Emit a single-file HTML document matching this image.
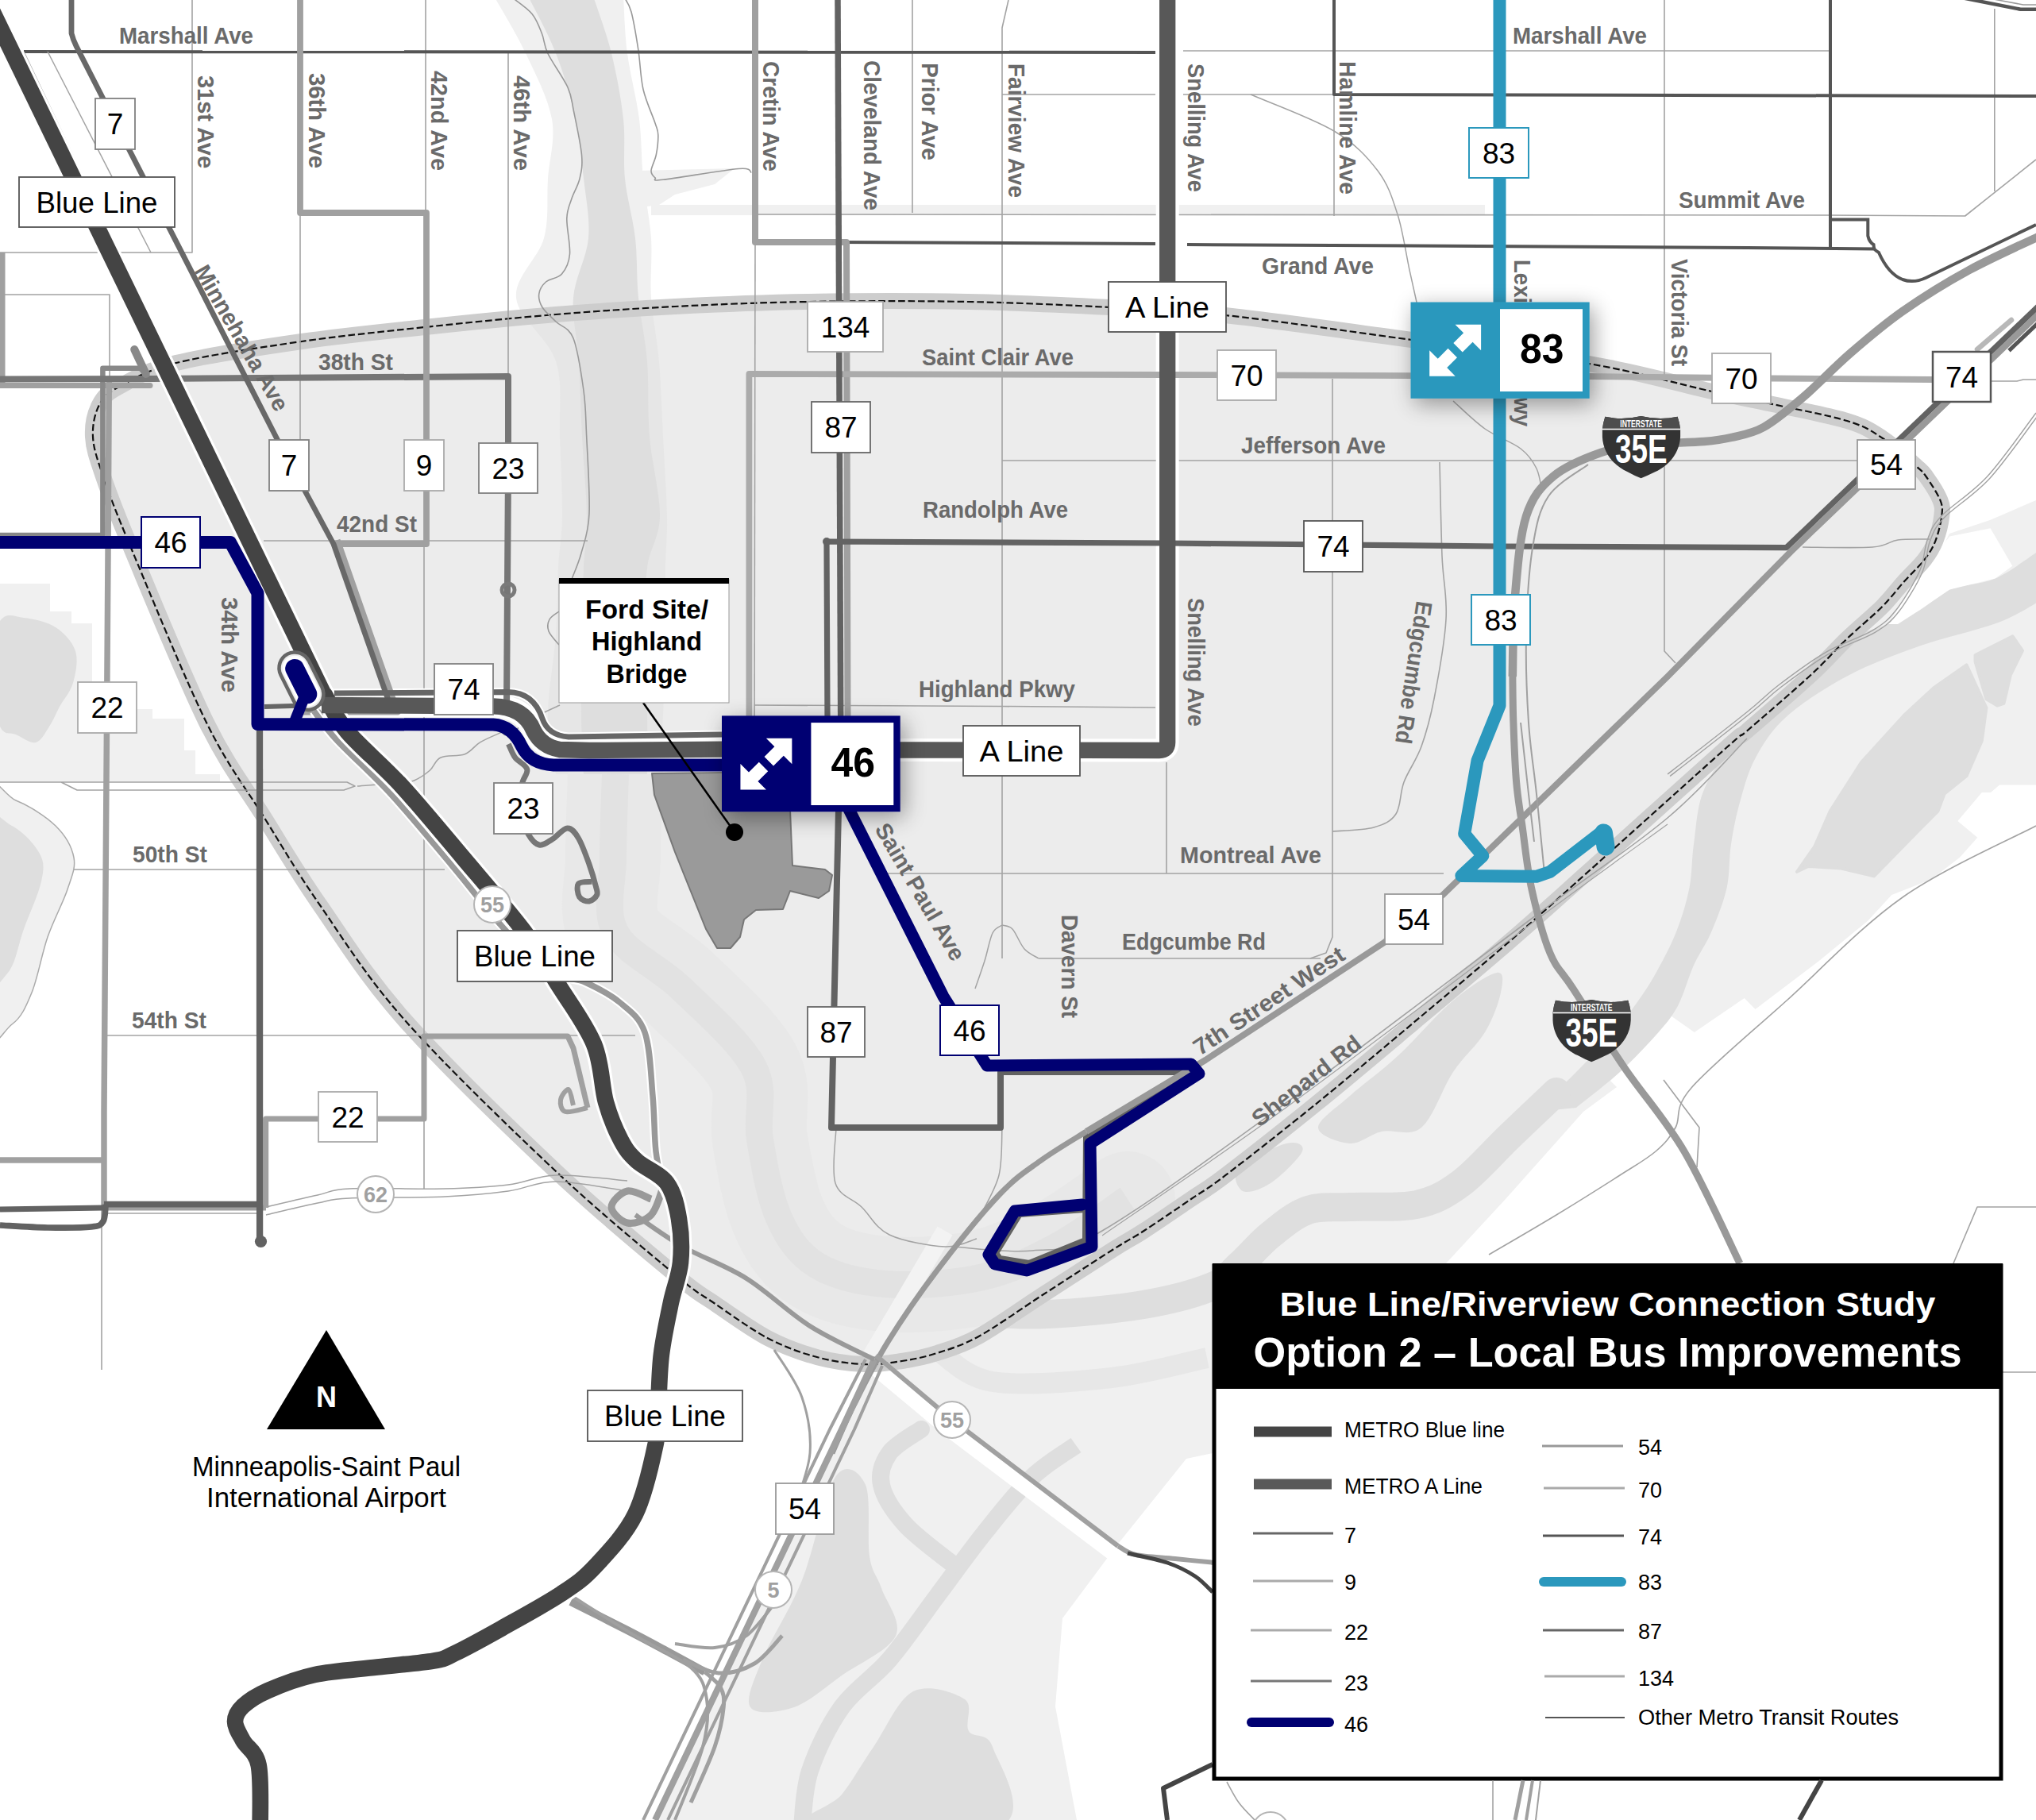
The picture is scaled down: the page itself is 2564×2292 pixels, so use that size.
<!DOCTYPE html>
<html><head><meta charset="utf-8"><title>Blue Line/Riverview Connection Study - Option 2</title>
<style>
html,body{margin:0;padding:0;background:#fff;}
body{width:2564px;height:2292px;overflow:hidden;font-family:"Liberation Sans",sans-serif;}
svg{display:block}
text{font-family:"Liberation Sans",sans-serif;}
.st{font-weight:bold;fill:#6a6a6a;font-size:29px;}
.bx{font-size:37px;fill:#000;text-anchor:middle;}
.lg{font-size:27px;fill:#000;}
</style></head><body>
<svg width="2564" height="2292" viewBox="0 0 2564 2292">
<rect width="2564" height="2292" fill="#fff"/>
<polygon points="0.0,735.0 63.0,735.0 63.0,770.0 90.0,770.0 90.0,785.0 116.0,785.0 116.0,893.0 192.0,893.0 192.0,905.0 232.0,905.0 232.0,945.0 246.0,945.0 246.0,975.0 277.0,975.0 277.0,985.0 0.0,985.0" fill="#f0f0f0" />
<path d="M0.0,782.0C8.3,770.0 18.3,776.7 30.0,778.0C41.7,779.3 59.2,783.0 70.0,790.0C80.8,797.0 91.3,808.3 95.0,820.0C98.7,831.7 95.3,848.3 92.0,860.0C88.7,871.7 80.0,880.8 75.0,890.0C70.0,899.2 67.0,907.5 62.0,915.0C57.0,922.5 52.0,933.3 45.0,935.0C38.0,936.7 27.5,928.3 20.0,925.0C12.5,921.7 6.7,927.5 0.0,915.0C-6.7,902.5 -20.0,872.2 -20.0,850.0C-20.0,827.8 -8.3,794.0 0.0,782.0Z" fill="#dedede" />
<path d="M-30.0,1000.0C-21.7,951.3 3.3,1001.3 20.0,1008.0C36.7,1014.7 57.8,1028.0 70.0,1040.0C82.2,1052.0 90.5,1066.7 93.0,1080.0C95.5,1093.3 90.5,1103.3 85.0,1120.0C79.5,1136.7 67.5,1158.3 60.0,1180.0C52.5,1201.7 47.5,1231.7 40.0,1250.0C32.5,1268.3 26.7,1281.7 15.0,1290.0C3.3,1298.3 -22.5,1348.3 -30.0,1300.0C-37.5,1251.7 -38.3,1048.7 -30.0,1000.0Z" fill="#f0f0f0" stroke="#aaa" stroke-width="1.5"/>
<path d="M-30.0,1035.0C-22.5,1001.7 1.7,1033.3 15.0,1040.0C28.3,1046.7 43.8,1063.3 50.0,1075.0C56.2,1086.7 55.3,1094.2 52.0,1110.0C48.7,1125.8 37.0,1150.8 30.0,1170.0C23.0,1189.2 20.0,1213.3 10.0,1225.0C0.0,1236.7 -23.3,1271.7 -30.0,1240.0C-36.7,1208.3 -37.5,1068.3 -30.0,1035.0Z" fill="#dedede" />
<path d="M622.0,-5.0C628.7,7.0 649.8,41.2 662.0,67.0C674.2,92.8 690.3,123.7 695.0,150.0C699.7,176.3 691.7,200.0 690.0,225.0C688.3,250.0 691.7,275.0 685.0,300.0C678.3,325.0 647.5,349.2 650.0,375.0C652.5,400.8 690.8,425.8 700.0,455.0C709.2,484.2 703.7,517.5 705.0,550.0C706.3,582.5 708.3,622.5 708.0,650.0C707.7,677.5 704.3,690.0 703.0,715.0C701.7,740.0 702.2,769.2 700.0,800.0C697.8,830.8 690.0,870.8 690.0,900.0C690.0,929.2 698.3,962.5 700.0,975.0L830.0,975.0C830.8,962.5 833.7,929.2 835.0,900.0C836.3,870.8 837.5,830.8 838.0,800.0C838.5,769.2 837.7,740.0 838.0,715.0C838.3,690.0 840.5,677.5 840.0,650.0C839.5,622.5 836.7,582.5 835.0,550.0C833.3,517.5 832.5,484.2 830.0,455.0C827.5,425.8 821.7,400.8 820.0,375.0C818.3,349.2 821.7,325.0 820.0,300.0C818.3,275.0 812.5,250.0 810.0,225.0C807.5,200.0 808.3,176.3 805.0,150.0C801.7,123.7 793.3,92.8 790.0,67.0C786.7,41.2 785.8,7.0 785.0,-5.0Z" fill="#f0f0f0"/>
<path d="M665.0,-5.0C670.8,7.0 690.0,41.2 700.0,67.0C710.0,92.8 719.2,123.7 725.0,150.0C730.8,176.3 732.3,200.0 735.0,225.0C737.7,250.0 743.2,275.0 741.0,300.0C738.8,325.0 724.0,349.2 722.0,375.0C720.0,400.8 727.2,425.8 729.0,455.0C730.8,484.2 731.3,517.5 733.0,550.0C734.7,582.5 738.7,622.5 739.0,650.0C739.3,677.5 736.0,690.0 735.0,715.0C734.0,740.0 733.5,769.2 733.0,800.0C732.5,830.8 731.7,870.8 732.0,900.0C732.3,929.2 734.5,962.5 735.0,975.0L815.0,975.0C815.0,962.5 815.5,929.2 815.0,900.0C814.5,870.8 812.0,830.8 812.0,800.0C812.0,769.2 811.8,740.0 815.0,715.0C818.2,690.0 830.5,677.5 831.0,650.0C831.5,622.5 820.7,582.5 818.0,550.0C815.3,517.5 817.3,484.2 815.0,455.0C812.7,425.8 806.5,400.8 804.0,375.0C801.5,349.2 802.8,325.0 800.0,300.0C797.2,275.0 789.5,250.0 787.0,225.0C784.5,200.0 787.8,176.3 785.0,150.0C782.2,123.7 776.3,92.8 770.0,67.0C763.7,41.2 750.8,7.0 747.0,-5.0Z" fill="#dedede"/>
<polygon points="800.0,215.0 925.0,212.0 900.0,232.0 850.0,245.0 830.0,258.0 800.0,262.0" fill="#f0f0f0" />
<rect x="820" y="258" width="1050" height="13" fill="#f0f0f0"/>
<polygon points="2564.0,630.0 2506.0,655.0 2455.0,672.0 2441.0,700.0 2396.0,740.0 2296.0,830.0 2211.0,905.0 2026.0,1065.0 1900.0,1180.0 1657.0,1385.0 1543.0,1475.0 1401.0,1568.0 1312.0,1625.0 1233.0,1678.0 1135.0,1710.0 1088.0,1714.0 1029.0,1705.0 975.0,1685.0 1101.0,1712.0 825.0,2292.0 1356.0,2292.0 1329.0,2149.0 1338.0,2038.0 1405.0,1948.0 1494.0,1837.0 1580.0,1819.0 1700.0,1700.0 1821.0,1591.0 1896.0,1510.0 1994.0,1400.0 2036.0,1369.0 2028.0,1361.0 2073.0,1316.0 2102.4,1278.0 2133.8,1300.0 2196.7,1257.0 2210.5,1271.0 2290.9,1210.0 2351.8,1160.0 2382.3,1127.0 2432.0,1107.5 2468.0,1079.8 2490.3,1054.8 2465.4,1034.0 2495.8,998.0 2507.0,998.0 2518.0,988.4 2564.0,988.4" fill="#f0f0f0" />
<polygon points="2263.0,1097.8 2285.3,1066.0 2304.7,1021.6 2343.5,960.7 2399.0,899.7 2435.0,866.5 2476.5,837.4 2501.4,891.4 2495.8,933.0 2476.5,977.3 2448.8,999.4 2440.4,1021.6 2415.5,1046.5 2360.0,1103.3 2318.6,1093.6 2277.0,1090.9" fill="#dedede" stroke="#dedede" stroke-width="4" stroke-linejoin="round"/>
<polygon points="2487.5,825.0 2534.6,801.4 2547.0,819.4 2531.9,849.9 2523.5,885.9 2515.2,888.6 2501.4,880.3 2487.5,833.2" fill="#dedede" stroke="#dedede" stroke-width="4" stroke-linejoin="round"/>
<path d="M2570.0,692.0C2560.4,698.1 2531.7,720.2 2512.6,728.6C2493.5,737.0 2471.0,735.8 2455.2,742.4C2439.4,749.0 2430.5,760.9 2417.6,768.2C2404.7,775.5 2392.6,779.9 2378.0,786.0C2363.4,792.1 2346.3,794.3 2330.0,805.0C2313.7,815.7 2297.5,834.2 2280.0,850.0C2262.5,865.8 2242.2,884.3 2225.0,900.0C2207.8,915.7 2190.5,927.4 2177.0,944.0C2163.5,960.6 2151.3,979.7 2144.0,999.5C2136.7,1019.3 2135.8,1043.2 2133.0,1063.0C2130.2,1082.8 2131.1,1100.1 2127.4,1118.6C2123.7,1137.1 2118.2,1155.5 2110.8,1174.0C2103.4,1192.5 2092.2,1213.2 2083.0,1229.4C2073.8,1245.6 2063.7,1259.2 2055.4,1271.0C2047.1,1282.8 2044.1,1287.7 2033.2,1300.0C2022.3,1312.3 2006.4,1328.3 1990.0,1345.0C1973.6,1361.7 1944.2,1390.8 1935.0,1400.0L1985.0,1395.0C1994.2,1387.5 2022.7,1365.8 2040.0,1350.0C2057.3,1334.2 2076.3,1314.1 2088.6,1300.0C2100.9,1285.9 2106.2,1279.5 2113.6,1265.4C2121.0,1251.3 2126.1,1230.7 2133.0,1215.5C2139.9,1200.3 2148.1,1190.2 2155.0,1174.0C2161.9,1157.8 2170.3,1137.1 2174.5,1118.6C2178.7,1100.1 2177.2,1081.0 2180.0,1063.0C2182.8,1045.0 2185.9,1028.5 2191.0,1010.5C2196.1,992.5 2200.8,973.0 2210.5,955.0C2220.2,937.0 2230.2,920.0 2249.5,902.7C2268.8,885.4 2298.6,866.1 2326.6,851.2C2354.6,836.4 2385.9,824.8 2417.6,813.6C2449.2,802.4 2491.1,793.6 2516.5,784.0C2541.9,774.4 2561.1,760.7 2570.0,756.0Z" fill="#dedede"/>
<polygon points="2378.0,786.0 2417.6,722.6 2455.2,675.5 2506.6,665.3 2534.3,712.8 2512.6,728.6 2455.2,742.4 2417.6,768.2 2390.0,786.0" fill="#fff" />
<path d="M1960.0,1375.0C1950.0,1384.5 1920.0,1412.8 1900.0,1432.0C1880.0,1451.2 1859.3,1475.8 1840.0,1490.0C1820.7,1504.2 1807.3,1512.0 1784.0,1517.0C1760.7,1522.0 1722.8,1518.8 1700.0,1520.0C1677.2,1521.2 1663.7,1518.2 1647.0,1524.0C1630.3,1529.8 1614.3,1543.5 1600.0,1555.0C1585.7,1566.5 1573.2,1582.2 1561.0,1593.0C1548.8,1603.8 1547.2,1611.7 1527.0,1620.0C1506.8,1628.3 1474.5,1637.2 1440.0,1643.0C1405.5,1648.8 1354.3,1653.5 1320.0,1655.0C1285.7,1656.5 1262.3,1654.5 1234.0,1652.0C1205.7,1649.5 1164.0,1642.0 1150.0,1640.0" fill="none" stroke="#dedede" stroke-width="36" stroke-linejoin="round" stroke-linecap="round"/>
<path d="M1660.0,1420.0C1660.0,1410.0 1683.3,1395.0 1700.0,1380.0C1716.7,1365.0 1738.3,1350.0 1760.0,1330.0C1781.7,1310.0 1809.2,1277.5 1830.0,1260.0C1850.8,1242.5 1875.0,1226.7 1885.0,1225.0C1895.0,1223.3 1892.5,1237.5 1890.0,1250.0C1887.5,1262.5 1880.0,1283.3 1870.0,1300.0C1860.0,1316.7 1843.3,1330.0 1830.0,1350.0C1816.7,1370.0 1805.0,1407.5 1790.0,1420.0C1775.0,1432.5 1755.0,1421.7 1740.0,1425.0C1725.0,1428.3 1713.3,1440.8 1700.0,1440.0C1686.7,1439.2 1660.0,1430.0 1660.0,1420.0Z" fill="#dedede" />
<path d="M1560.0,1470.0C1569.2,1460.0 1606.7,1443.3 1620.0,1440.0C1633.3,1436.7 1643.3,1441.7 1640.0,1450.0C1636.7,1458.3 1612.5,1481.7 1600.0,1490.0C1587.5,1498.3 1571.7,1503.3 1565.0,1500.0C1558.3,1496.7 1550.8,1480.0 1560.0,1470.0Z" fill="#dedede" />
<path d="M1052.0,1860.0C1065.3,1840.0 1082.8,1853.3 1090.0,1870.0C1097.2,1886.7 1091.7,1938.3 1095.0,1960.0C1098.3,1981.7 1104.5,1983.3 1110.0,2000.0C1115.5,2016.7 1136.3,2041.7 1128.0,2060.0C1119.7,2078.3 1081.3,2095.0 1060.0,2110.0C1038.7,2125.0 1019.2,2143.3 1000.0,2150.0C980.8,2156.7 951.7,2160.0 945.0,2150.0C938.3,2140.0 949.2,2116.7 960.0,2090.0C970.8,2063.3 994.7,2028.3 1010.0,1990.0C1025.3,1951.7 1038.7,1880.0 1052.0,1860.0Z" fill="#dedede" />
<path d="M1060.0,2260.0C1073.3,2243.3 1085.0,2221.7 1100.0,2200.0C1115.0,2178.3 1130.8,2140.0 1150.0,2130.0C1169.2,2120.0 1203.3,2131.7 1215.0,2140.0C1226.7,2148.3 1214.2,2170.0 1220.0,2180.0C1225.8,2190.0 1243.3,2180.0 1250.0,2200.0C1256.7,2220.0 1298.3,2283.3 1260.0,2300.0C1221.7,2316.7 1053.3,2306.7 1020.0,2300.0C986.7,2293.3 1046.7,2276.7 1060.0,2260.0Z" fill="#dedede" />
<path d="M1355.0,1820.0C1345.8,1826.7 1319.2,1841.7 1300.0,1860.0C1280.8,1878.3 1260.0,1905.0 1240.0,1930.0C1220.0,1955.0 1200.0,1983.3 1180.0,2010.0C1160.0,2036.7 1140.0,2066.7 1120.0,2090.0C1100.0,2113.3 1076.7,2126.7 1060.0,2150.0C1043.3,2173.3 1028.3,2205.0 1020.0,2230.0C1011.7,2255.0 1011.7,2288.3 1010.0,2300.0" fill="none" stroke="#dedede" stroke-width="22" stroke-linejoin="round" />
<path d="M1160.0,1800.0C1153.3,1805.0 1128.3,1818.3 1120.0,1830.0C1111.7,1841.7 1106.7,1855.0 1110.0,1870.0C1113.3,1885.0 1125.0,1903.3 1140.0,1920.0C1155.0,1936.7 1190.0,1961.7 1200.0,1970.0" fill="none" stroke="#dedede" stroke-width="22" stroke-linejoin="round" stroke-linecap="round"/>
<path d="M1180.0,1700.0C1191.7,1706.7 1213.3,1734.2 1250.0,1740.0C1286.7,1745.8 1355.0,1740.0 1400.0,1735.0C1445.0,1730.0 1500.0,1714.2 1520.0,1710.0" fill="none" stroke="#e7e7e7" stroke-width="26" stroke-linejoin="round" />
<polyline points="1095.0,1716.0 1192.0,1797.0 1405.0,1958.0 1440.0,1972.0" fill="none" stroke="#fff" stroke-width="20" stroke-linejoin="round" />
<clipPath id="sac"><path d="M150.0,487.0C166.2,478.2 183.7,466.5 222.0,457.0C260.3,447.5 327.8,437.5 380.0,430.0C432.2,422.5 481.7,417.7 535.0,412.0C588.3,406.3 647.5,400.3 700.0,396.0C752.5,391.7 797.0,388.7 850.0,386.0C903.0,383.3 956.7,381.0 1018.0,380.0C1079.3,379.0 1154.7,378.8 1218.0,380.0C1281.3,381.2 1343.8,384.2 1398.0,387.0C1452.2,389.8 1479.7,390.2 1543.0,397.0C1606.3,403.8 1701.7,417.8 1778.0,428.0C1854.3,438.2 1938.0,447.2 2001.0,458.0C2064.0,468.8 2117.8,484.6 2156.0,493.0C2194.2,501.4 2201.7,502.3 2230.0,508.5C2258.3,514.7 2302.5,522.8 2326.0,530.0C2349.5,537.2 2356.5,542.5 2371.0,552.0C2385.5,561.5 2403.9,579.0 2413.0,587.0C2422.1,595.0 2420.4,592.9 2425.5,600.0C2430.6,607.1 2440.0,621.5 2443.3,629.7C2446.6,638.0 2446.3,640.9 2445.3,649.5C2444.3,658.1 2441.0,671.9 2437.4,681.1C2433.8,690.3 2430.1,696.2 2423.5,704.8C2416.9,713.4 2406.7,722.6 2397.8,732.5C2388.9,742.4 2382.0,752.3 2370.1,764.2C2358.2,776.1 2341.8,789.3 2326.6,803.8C2311.4,818.3 2300.2,831.8 2279.1,851.2C2258.0,870.7 2217.4,905.5 2200.0,920.5C2182.6,935.5 2207.8,911.8 2174.5,941.3C2141.2,970.8 2045.8,1056.9 2000.0,1097.8C1954.2,1138.7 1936.7,1154.7 1900.0,1186.4C1863.3,1218.1 1820.5,1254.0 1780.0,1288.0C1739.5,1322.0 1696.6,1358.3 1657.2,1390.3C1617.8,1422.2 1570.0,1459.8 1543.8,1479.7C1517.6,1499.7 1517.2,1498.3 1500.0,1510.0C1482.8,1521.7 1457.1,1539.3 1440.6,1550.0C1424.1,1560.7 1422.3,1560.5 1401.0,1574.0C1379.7,1587.5 1340.6,1612.9 1312.6,1631.0C1284.6,1649.1 1255.1,1670.5 1233.0,1682.7C1210.9,1694.9 1196.2,1698.8 1180.0,1704.0C1163.8,1709.2 1151.0,1711.7 1135.8,1714.0C1120.6,1716.3 1106.3,1718.9 1088.6,1718.1C1070.9,1717.3 1049.8,1714.7 1029.7,1709.3C1009.6,1703.9 989.4,1697.0 967.8,1685.7C946.2,1674.4 919.6,1655.0 900.0,1641.5C880.4,1628.0 883.3,1632.8 850.0,1605.0C816.7,1577.2 756.7,1528.3 700.0,1475.0C643.3,1421.7 559.5,1340.8 510.0,1285.0C460.5,1229.2 432.5,1182.5 403.0,1140.0C373.5,1097.5 356.8,1068.3 333.0,1030.0C309.2,991.7 288.0,966.7 260.0,910.0C232.0,853.3 186.7,741.7 165.0,690.0C143.3,638.3 138.0,623.3 130.0,600.0C122.0,576.7 117.8,565.0 117.0,550.0C116.2,535.0 119.5,520.5 125.0,510.0C130.5,499.5 133.8,495.8 150.0,487.0Z"/></clipPath>
<path d="M150.0,487.0C166.2,478.2 183.7,466.5 222.0,457.0C260.3,447.5 327.8,437.5 380.0,430.0C432.2,422.5 481.7,417.7 535.0,412.0C588.3,406.3 647.5,400.3 700.0,396.0C752.5,391.7 797.0,388.7 850.0,386.0C903.0,383.3 956.7,381.0 1018.0,380.0C1079.3,379.0 1154.7,378.8 1218.0,380.0C1281.3,381.2 1343.8,384.2 1398.0,387.0C1452.2,389.8 1479.7,390.2 1543.0,397.0C1606.3,403.8 1701.7,417.8 1778.0,428.0C1854.3,438.2 1938.0,447.2 2001.0,458.0C2064.0,468.8 2117.8,484.6 2156.0,493.0C2194.2,501.4 2201.7,502.3 2230.0,508.5C2258.3,514.7 2302.5,522.8 2326.0,530.0C2349.5,537.2 2356.5,542.5 2371.0,552.0C2385.5,561.5 2403.9,579.0 2413.0,587.0C2422.1,595.0 2420.4,592.9 2425.5,600.0C2430.6,607.1 2440.0,621.5 2443.3,629.7C2446.6,638.0 2446.3,640.9 2445.3,649.5C2444.3,658.1 2441.0,671.9 2437.4,681.1C2433.8,690.3 2430.1,696.2 2423.5,704.8C2416.9,713.4 2406.7,722.6 2397.8,732.5C2388.9,742.4 2382.0,752.3 2370.1,764.2C2358.2,776.1 2341.8,789.3 2326.6,803.8C2311.4,818.3 2300.2,831.8 2279.1,851.2C2258.0,870.7 2217.4,905.5 2200.0,920.5C2182.6,935.5 2207.8,911.8 2174.5,941.3C2141.2,970.8 2045.8,1056.9 2000.0,1097.8C1954.2,1138.7 1936.7,1154.7 1900.0,1186.4C1863.3,1218.1 1820.5,1254.0 1780.0,1288.0C1739.5,1322.0 1696.6,1358.3 1657.2,1390.3C1617.8,1422.2 1570.0,1459.8 1543.8,1479.7C1517.6,1499.7 1517.2,1498.3 1500.0,1510.0C1482.8,1521.7 1457.1,1539.3 1440.6,1550.0C1424.1,1560.7 1422.3,1560.5 1401.0,1574.0C1379.7,1587.5 1340.6,1612.9 1312.6,1631.0C1284.6,1649.1 1255.1,1670.5 1233.0,1682.7C1210.9,1694.9 1196.2,1698.8 1180.0,1704.0C1163.8,1709.2 1151.0,1711.7 1135.8,1714.0C1120.6,1716.3 1106.3,1718.9 1088.6,1718.1C1070.9,1717.3 1049.8,1714.7 1029.7,1709.3C1009.6,1703.9 989.4,1697.0 967.8,1685.7C946.2,1674.4 919.6,1655.0 900.0,1641.5C880.4,1628.0 883.3,1632.8 850.0,1605.0C816.7,1577.2 756.7,1528.3 700.0,1475.0C643.3,1421.7 559.5,1340.8 510.0,1285.0C460.5,1229.2 432.5,1182.5 403.0,1140.0C373.5,1097.5 356.8,1068.3 333.0,1030.0C309.2,991.7 288.0,966.7 260.0,910.0C232.0,853.3 186.7,741.7 165.0,690.0C143.3,638.3 138.0,623.3 130.0,600.0C122.0,576.7 117.8,565.0 117.0,550.0C116.2,535.0 119.5,520.5 125.0,510.0C130.5,499.5 133.8,495.8 150.0,487.0Z" fill="#ececec"/>
<g clip-path="url(#sac)">
<path d="M622.0,-5.0C628.7,7.0 649.8,41.2 662.0,67.0C674.2,92.8 690.3,123.7 695.0,150.0C699.7,176.3 691.7,200.0 690.0,225.0C688.3,250.0 691.7,275.0 685.0,300.0C678.3,325.0 647.5,349.2 650.0,375.0C652.5,400.8 690.8,425.8 700.0,455.0C709.2,484.2 703.7,517.5 705.0,550.0C706.3,582.5 708.3,622.5 708.0,650.0C707.7,677.5 704.3,690.0 703.0,715.0C701.7,740.0 702.2,769.2 700.0,800.0C697.8,830.8 690.0,870.8 690.0,900.0C690.0,929.2 698.3,962.5 700.0,975.0L830.0,975.0C830.8,962.5 833.7,929.2 835.0,900.0C836.3,870.8 837.5,830.8 838.0,800.0C838.5,769.2 837.7,740.0 838.0,715.0C838.3,690.0 840.5,677.5 840.0,650.0C839.5,622.5 836.7,582.5 835.0,550.0C833.3,517.5 832.5,484.2 830.0,455.0C827.5,425.8 821.7,400.8 820.0,375.0C818.3,349.2 821.7,325.0 820.0,300.0C818.3,275.0 812.5,250.0 810.0,225.0C807.5,200.0 808.3,176.3 805.0,150.0C801.7,123.7 793.3,92.8 790.0,67.0C786.7,41.2 785.8,7.0 785.0,-5.0Z" fill="#e6e6e6"/>
<path d="M775.0,975.0C774.5,992.5 772.0,1046.8 772.0,1080.0C772.0,1113.2 760.7,1146.5 775.0,1174.0C789.3,1201.5 829.0,1216.7 858.0,1245.0C887.0,1273.3 932.5,1312.3 949.0,1344.0C965.5,1375.7 951.7,1403.3 957.0,1435.0C962.3,1466.7 969.2,1507.7 981.0,1534.0C992.8,1560.3 1005.7,1579.2 1028.0,1593.0C1050.3,1606.8 1080.7,1614.3 1115.0,1617.0C1149.3,1619.7 1198.2,1616.8 1234.0,1609.0C1269.8,1601.2 1299.0,1586.5 1330.0,1570.0C1361.0,1553.5 1405.0,1520.0 1420.0,1510.0" fill="none" stroke="#e8e8e8" stroke-width="120" stroke-linecap="round"/>
<path d="M665.0,-5.0C670.8,7.0 690.0,41.2 700.0,67.0C710.0,92.8 719.2,123.7 725.0,150.0C730.8,176.3 732.3,200.0 735.0,225.0C737.7,250.0 743.2,275.0 741.0,300.0C738.8,325.0 724.0,349.2 722.0,375.0C720.0,400.8 727.2,425.8 729.0,455.0C730.8,484.2 731.3,517.5 733.0,550.0C734.7,582.5 738.7,622.5 739.0,650.0C739.3,677.5 736.0,690.0 735.0,715.0C734.0,740.0 733.5,769.2 733.0,800.0C732.5,830.8 731.7,870.8 732.0,900.0C732.3,929.2 734.5,962.5 735.0,975.0L815.0,975.0C815.0,962.5 815.5,929.2 815.0,900.0C814.5,870.8 812.0,830.8 812.0,800.0C812.0,769.2 811.8,740.0 815.0,715.0C818.2,690.0 830.5,677.5 831.0,650.0C831.5,622.5 820.7,582.5 818.0,550.0C815.3,517.5 817.3,484.2 815.0,455.0C812.7,425.8 806.5,400.8 804.0,375.0C801.5,349.2 802.8,325.0 800.0,300.0C797.2,275.0 789.5,250.0 787.0,225.0C784.5,200.0 787.8,176.3 785.0,150.0C782.2,123.7 776.3,92.8 770.0,67.0C763.7,41.2 750.8,7.0 747.0,-5.0Z" fill="#dedede"/>
<path d="M775.0,975.0C774.5,992.5 772.0,1046.8 772.0,1080.0C772.0,1113.2 760.7,1146.5 775.0,1174.0C789.3,1201.5 829.0,1216.7 858.0,1245.0C887.0,1273.3 932.5,1312.3 949.0,1344.0C965.5,1375.7 951.7,1403.3 957.0,1435.0C962.3,1466.7 969.2,1507.7 981.0,1534.0C992.8,1560.3 1005.7,1579.2 1028.0,1593.0C1050.3,1606.8 1080.7,1614.3 1115.0,1617.0C1149.3,1619.7 1198.2,1616.8 1234.0,1609.0C1269.8,1601.2 1299.0,1586.5 1330.0,1570.0C1361.0,1553.5 1405.0,1520.0 1420.0,1510.0" fill="none" stroke="#e2e2e2" stroke-width="34"/>
<path d="M1190,1550 L1128,1655 L1060,1770" fill="none" stroke="#f3f3f3" stroke-width="22"/>
</g>
<path d="M150.0,487.0C166.2,478.2 183.7,466.5 222.0,457.0C260.3,447.5 327.8,437.5 380.0,430.0C432.2,422.5 481.7,417.7 535.0,412.0C588.3,406.3 647.5,400.3 700.0,396.0C752.5,391.7 797.0,388.7 850.0,386.0C903.0,383.3 956.7,381.0 1018.0,380.0C1079.3,379.0 1154.7,378.8 1218.0,380.0C1281.3,381.2 1343.8,384.2 1398.0,387.0C1452.2,389.8 1479.7,390.2 1543.0,397.0C1606.3,403.8 1701.7,417.8 1778.0,428.0C1854.3,438.2 1938.0,447.2 2001.0,458.0C2064.0,468.8 2117.8,484.6 2156.0,493.0C2194.2,501.4 2201.7,502.3 2230.0,508.5C2258.3,514.7 2302.5,522.8 2326.0,530.0C2349.5,537.2 2356.5,542.5 2371.0,552.0C2385.5,561.5 2403.9,579.0 2413.0,587.0C2422.1,595.0 2420.4,592.9 2425.5,600.0C2430.6,607.1 2440.0,621.5 2443.3,629.7C2446.6,638.0 2446.3,640.9 2445.3,649.5C2444.3,658.1 2441.0,671.9 2437.4,681.1C2433.8,690.3 2430.1,696.2 2423.5,704.8C2416.9,713.4 2406.7,722.6 2397.8,732.5C2388.9,742.4 2382.0,752.3 2370.1,764.2C2358.2,776.1 2341.8,789.3 2326.6,803.8C2311.4,818.3 2300.2,831.8 2279.1,851.2C2258.0,870.7 2217.4,905.5 2200.0,920.5C2182.6,935.5 2207.8,911.8 2174.5,941.3C2141.2,970.8 2045.8,1056.9 2000.0,1097.8C1954.2,1138.7 1936.7,1154.7 1900.0,1186.4C1863.3,1218.1 1820.5,1254.0 1780.0,1288.0C1739.5,1322.0 1696.6,1358.3 1657.2,1390.3C1617.8,1422.2 1570.0,1459.8 1543.8,1479.7C1517.6,1499.7 1517.2,1498.3 1500.0,1510.0C1482.8,1521.7 1457.1,1539.3 1440.6,1550.0C1424.1,1560.7 1422.3,1560.5 1401.0,1574.0C1379.7,1587.5 1340.6,1612.9 1312.6,1631.0C1284.6,1649.1 1255.1,1670.5 1233.0,1682.7C1210.9,1694.9 1196.2,1698.8 1180.0,1704.0C1163.8,1709.2 1151.0,1711.7 1135.8,1714.0C1120.6,1716.3 1106.3,1718.9 1088.6,1718.1C1070.9,1717.3 1049.8,1714.7 1029.7,1709.3C1009.6,1703.9 989.4,1697.0 967.8,1685.7C946.2,1674.4 919.6,1655.0 900.0,1641.5C880.4,1628.0 883.3,1632.8 850.0,1605.0C816.7,1577.2 756.7,1528.3 700.0,1475.0C643.3,1421.7 559.5,1340.8 510.0,1285.0C460.5,1229.2 432.5,1182.5 403.0,1140.0C373.5,1097.5 356.8,1068.3 333.0,1030.0C309.2,991.7 288.0,966.7 260.0,910.0C232.0,853.3 186.7,741.7 165.0,690.0C143.3,638.3 138.0,623.3 130.0,600.0C122.0,576.7 117.8,565.0 117.0,550.0C116.2,535.0 119.5,520.5 125.0,510.0C130.5,499.5 133.8,495.8 150.0,487.0Z" fill="none" stroke="#cdcdcd" stroke-width="20"/>
<path d="M150.0,487.0C166.2,478.2 183.7,466.5 222.0,457.0C260.3,447.5 327.8,437.5 380.0,430.0C432.2,422.5 481.7,417.7 535.0,412.0C588.3,406.3 647.5,400.3 700.0,396.0C752.5,391.7 797.0,388.7 850.0,386.0C903.0,383.3 956.7,381.0 1018.0,380.0C1079.3,379.0 1154.7,378.8 1218.0,380.0C1281.3,381.2 1343.8,384.2 1398.0,387.0C1452.2,389.8 1479.7,390.2 1543.0,397.0C1606.3,403.8 1701.7,417.8 1778.0,428.0C1854.3,438.2 1938.0,447.2 2001.0,458.0C2064.0,468.8 2117.8,484.6 2156.0,493.0C2194.2,501.4 2201.7,502.3 2230.0,508.5C2258.3,514.7 2302.5,522.8 2326.0,530.0C2349.5,537.2 2356.5,542.5 2371.0,552.0C2385.5,561.5 2403.9,579.0 2413.0,587.0C2422.1,595.0 2420.4,592.9 2425.5,600.0C2430.6,607.1 2440.0,621.5 2443.3,629.7C2446.6,638.0 2446.3,640.9 2445.3,649.5C2444.3,658.1 2441.0,671.9 2437.4,681.1C2433.8,690.3 2430.1,696.2 2423.5,704.8C2416.9,713.4 2406.7,722.6 2397.8,732.5C2388.9,742.4 2382.0,752.3 2370.1,764.2C2358.2,776.1 2341.8,789.3 2326.6,803.8C2311.4,818.3 2300.2,831.8 2279.1,851.2C2258.0,870.7 2217.4,905.5 2200.0,920.5C2182.6,935.5 2207.8,911.8 2174.5,941.3C2141.2,970.8 2045.8,1056.9 2000.0,1097.8C1954.2,1138.7 1936.7,1154.7 1900.0,1186.4C1863.3,1218.1 1820.5,1254.0 1780.0,1288.0C1739.5,1322.0 1696.6,1358.3 1657.2,1390.3C1617.8,1422.2 1570.0,1459.8 1543.8,1479.7C1517.6,1499.7 1517.2,1498.3 1500.0,1510.0C1482.8,1521.7 1457.1,1539.3 1440.6,1550.0C1424.1,1560.7 1422.3,1560.5 1401.0,1574.0C1379.7,1587.5 1340.6,1612.9 1312.6,1631.0C1284.6,1649.1 1255.1,1670.5 1233.0,1682.7C1210.9,1694.9 1196.2,1698.8 1180.0,1704.0C1163.8,1709.2 1151.0,1711.7 1135.8,1714.0C1120.6,1716.3 1106.3,1718.9 1088.6,1718.1C1070.9,1717.3 1049.8,1714.7 1029.7,1709.3C1009.6,1703.9 989.4,1697.0 967.8,1685.7C946.2,1674.4 919.6,1655.0 900.0,1641.5C880.4,1628.0 883.3,1632.8 850.0,1605.0C816.7,1577.2 756.7,1528.3 700.0,1475.0C643.3,1421.7 559.5,1340.8 510.0,1285.0C460.5,1229.2 432.5,1182.5 403.0,1140.0C373.5,1097.5 356.8,1068.3 333.0,1030.0C309.2,991.7 288.0,966.7 260.0,910.0C232.0,853.3 186.7,741.7 165.0,690.0C143.3,638.3 138.0,623.3 130.0,600.0C122.0,576.7 117.8,565.0 117.0,550.0C116.2,535.0 119.5,520.5 125.0,510.0C130.5,499.5 133.8,495.8 150.0,487.0Z" fill="none" stroke="#111" stroke-width="2.2" stroke-dasharray="8.6 3.8"/>
<polygon points="821.0,974.0 824.0,1001.0 850.0,1073.0 889.0,1170.0 903.0,1194.0 920.0,1194.0 932.0,1180.0 937.0,1158.0 952.0,1146.0 986.0,1145.0 995.0,1122.0 1031.0,1131.0 1044.0,1122.0 1048.0,1102.0 1039.0,1095.0 998.0,1090.0 995.0,1020.0 995.0,972.0" fill="#9a9a9a" stroke="#777" stroke-width="2" stroke-linejoin="round"/>
<polyline points="242.0,0.0 242.0,318.0 0.0,318.0" fill="none" stroke="#a3a3a3" stroke-width="1.6" stroke-linejoin="round" />
<polyline points="0.0,371.0 138.0,371.0 138.0,474.0" fill="none" stroke="#a3a3a3" stroke-width="1.6" stroke-linejoin="round" />
<polyline points="378.0,268.0 378.0,600.0" fill="none" stroke="#a3a3a3" stroke-width="1.6" stroke-linejoin="round" />
<polyline points="536.0,0.0 536.0,268.0" fill="none" stroke="#a3a3a3" stroke-width="1.6" stroke-linejoin="round" />
<polyline points="534.0,685.0 534.0,1497.0" fill="none" stroke="#a3a3a3" stroke-width="1.6" stroke-linejoin="round" />
<polyline points="640.0,65.0 640.0,474.0" fill="none" stroke="#a3a3a3" stroke-width="1.6" stroke-linejoin="round" />
<polyline points="951.0,305.0 950.0,945.0" fill="none" stroke="#a3a3a3" stroke-width="1.6" stroke-linejoin="round" />
<polyline points="1149.0,0.0 1149.0,268.0" fill="none" stroke="#a3a3a3" stroke-width="1.6" stroke-linejoin="round" />
<polyline points="1270.0,0.0 1262.0,35.0 1262.0,1207.0" fill="none" stroke="#a3a3a3" stroke-width="1.6" stroke-linejoin="round" />
<polyline points="1469.0,960.0 1469.0,1100.0" fill="none" stroke="#a3a3a3" stroke-width="1.6" stroke-linejoin="round" />
<polyline points="1680.0,119.0 1680.0,272.0" fill="none" stroke="#a3a3a3" stroke-width="1.6" stroke-linejoin="round" />
<polyline points="1678.0,477.0 1678.0,1180.0 1670.0,1200.0 1650.0,1207.0" fill="none" stroke="#a3a3a3" stroke-width="1.6" stroke-linejoin="round" />
<polyline points="2096.0,0.0 2096.0,475.0" fill="none" stroke="#a3a3a3" stroke-width="1.6" stroke-linejoin="round" />
<polyline points="2096.0,580.0 2096.0,820.0 2110.0,835.0" fill="none" stroke="#a3a3a3" stroke-width="1.6" stroke-linejoin="round" />
<polyline points="1490.0,64.0 2305.0,64.0" fill="none" stroke="#a3a3a3" stroke-width="1.6" stroke-linejoin="round" />
<polyline points="1262.0,119.0 1455.0,119.0" fill="none" stroke="#a3a3a3" stroke-width="1.6" stroke-linejoin="round" />
<polyline points="1490.0,119.0 1680.0,119.0" fill="none" stroke="#a3a3a3" stroke-width="1.6" stroke-linejoin="round" />
<polyline points="951.0,270.0 2300.0,271.0 2474.7,272.0 2564.0,201.0" fill="none" stroke="#a3a3a3" stroke-width="1.6" stroke-linejoin="round" />
<polyline points="1262.0,580.0 2340.0,580.0" fill="none" stroke="#a3a3a3" stroke-width="1.6" stroke-linejoin="round" />
<polyline points="1113.0,1100.0 1818.0,1100.0" fill="none" stroke="#a3a3a3" stroke-width="1.6" stroke-linejoin="round" />
<polyline points="1308.0,1207.0 1663.0,1207.0" fill="none" stroke="#a3a3a3" stroke-width="1.6" stroke-linejoin="round" />
<polyline points="950.0,888.0 1262.0,889.5 1455.0,891.0" fill="none" stroke="#a3a3a3" stroke-width="1.6" stroke-linejoin="round" />
<polyline points="332.0,681.0 740.0,681.0" fill="none" stroke="#a3a3a3" stroke-width="1.6" stroke-linejoin="round" />
<polyline points="93.0,1095.0 560.0,1095.0" fill="none" stroke="#a3a3a3" stroke-width="1.6" stroke-linejoin="round" />
<polyline points="132.0,1304.0 800.0,1304.0" fill="none" stroke="#a3a3a3" stroke-width="1.6" stroke-linejoin="round" />
<polyline points="128.0,1517.0 128.0,1725.0" fill="none" stroke="#a3a3a3" stroke-width="1.6" stroke-linejoin="round" />
<polyline points="0.0,985.0 77.0,985.0 97.0,995.0 433.0,995.0 447.0,990.0 437.0,985.0 77.0,985.0" fill="none" stroke="#a3a3a3" stroke-width="1.6" stroke-linejoin="round" />
<path d="M632.0,922.0C627.5,924.1 612.8,930.0 605.0,934.6C597.2,939.2 593.8,946.5 585.5,949.7C577.2,952.9 562.3,950.6 555.0,954.0C547.7,957.4 547.0,965.2 541.5,970.0C536.0,974.8 527.9,980.1 522.0,982.7C516.1,985.3 518.0,984.2 506.0,985.4C494.0,986.6 459.3,989.2 450.0,990.0" fill="none" stroke="#a3a3a3" stroke-width="1.6" stroke-linejoin="round" />
<path d="M1813.0,582.0C1813.5,601.7 1814.7,667.0 1816.0,700.0C1817.3,733.0 1822.7,750.0 1821.0,780.0C1819.3,810.0 1811.2,853.3 1806.0,880.0C1800.8,906.7 1796.3,922.5 1790.0,940.0C1783.7,957.5 1773.3,970.8 1768.0,985.0C1762.7,999.2 1764.3,1015.5 1758.0,1025.0C1751.7,1034.5 1743.3,1038.3 1730.0,1042.0C1716.7,1045.7 1686.7,1046.2 1678.0,1047.0" fill="none" stroke="#a3a3a3" stroke-width="1.6" stroke-linejoin="round" />
<polyline points="2511.8,11.0 2511.8,241.0" fill="none" stroke="#a3a3a3" stroke-width="1.6" stroke-linejoin="round" />
<path d="M1200.0,1570.0C1216.7,1570.8 1268.7,1578.3 1300.0,1575.0C1331.3,1571.7 1335.0,1580.8 1388.0,1550.0C1441.0,1519.2 1526.3,1456.7 1618.0,1390.0C1709.7,1323.3 1857.7,1210.0 1938.0,1150.0C2018.3,1090.0 2056.3,1066.7 2100.0,1030.0C2143.7,993.3 2183.3,946.7 2200.0,930.0" fill="none" stroke="#a3a3a3" stroke-width="1.6" stroke-linejoin="round" />
<path d="M1388.0,1556.0C1426.3,1529.3 1526.3,1462.7 1618.0,1396.0C1709.7,1329.3 1857.7,1215.7 1938.0,1156.0C2018.3,1096.3 2073.0,1057.7 2100.0,1038.0" fill="none" stroke="#a3a3a3" stroke-width="1.2" stroke-linejoin="round" />
<path d="M2564.0,1040.0C2536.0,1055.0 2448.3,1093.3 2396.0,1130.0C2343.7,1166.7 2294.3,1220.0 2250.0,1260.0C2205.7,1300.0 2153.3,1343.3 2130.0,1370.0C2106.7,1396.7 2117.5,1406.7 2110.0,1420.0C2102.5,1433.3 2096.7,1440.0 2085.0,1450.0C2073.3,1460.0 2060.8,1466.7 2040.0,1480.0C2019.2,1493.3 1987.5,1513.3 1960.0,1530.0C1932.5,1546.7 1889.2,1571.7 1875.0,1580.0" fill="none" stroke="#a3a3a3" stroke-width="1.6" stroke-linejoin="round" />
<polyline points="2564.0,1520.0 2490.0,1520.0 2460.0,1591.0" fill="none" stroke="#a3a3a3" stroke-width="1.6" stroke-linejoin="round" />
<polyline points="2564.0,1728.0 2522.0,1728.0" fill="none" stroke="#a3a3a3" stroke-width="1.6" stroke-linejoin="round" />
<polyline points="2095.0,1360.0 2140.0,1420.0 2137.0,1470.0" fill="none" stroke="#a3a3a3" stroke-width="1.6" stroke-linejoin="round" />
<path d="M335.0,1520.0C345.8,1517.5 382.5,1508.8 400.0,1505.0C417.5,1501.2 413.3,1498.3 440.0,1497.0C466.7,1495.7 526.7,1497.8 560.0,1497.0C593.3,1496.2 616.7,1494.8 640.0,1492.0C663.3,1489.2 675.0,1480.8 700.0,1480.0C725.0,1479.2 775.0,1485.8 790.0,1487.0" fill="none" stroke="#a3a3a3" stroke-width="1.5" stroke-linejoin="round" />
<path d="M335.0,1530.0C345.8,1527.5 382.5,1518.5 400.0,1515.0C417.5,1511.5 413.3,1510.3 440.0,1509.0C466.7,1507.7 526.7,1508.5 560.0,1507.0C593.3,1505.5 616.7,1503.2 640.0,1500.0C663.3,1496.8 675.0,1488.0 700.0,1488.0C725.0,1488.0 775.0,1498.0 790.0,1500.0" fill="none" stroke="#a3a3a3" stroke-width="1.5" stroke-linejoin="round" />
<polyline points="135.0,1528.0 327.0,1528.0" fill="none" stroke="#a3a3a3" stroke-width="1.5" stroke-linejoin="round" />
<path d="M705.0,888.0C699.2,890.8 680.8,898.8 670.0,905.0C659.2,911.2 646.3,922.2 640.0,925.0C633.7,927.8 633.3,922.5 632.0,922.0" fill="none" stroke="#a3a3a3" stroke-width="1.5" stroke-linejoin="round" />
<path d="M1053.0,1420.0C1052.8,1431.7 1046.7,1473.3 1052.0,1490.0C1057.3,1506.7 1073.7,1509.2 1085.0,1520.0C1096.3,1530.8 1102.5,1546.7 1120.0,1555.0C1137.5,1563.3 1171.7,1569.2 1190.0,1570.0C1208.3,1570.8 1223.3,1561.7 1230.0,1560.0" fill="none" stroke="#a3a3a3" stroke-width="1.5" stroke-linejoin="round" />
<path d="M1262.0,1165.0C1260.0,1166.7 1253.7,1167.5 1250.0,1175.0C1246.3,1182.5 1243.7,1198.3 1240.0,1210.0C1236.3,1221.7 1230.0,1239.2 1228.0,1245.0" fill="none" stroke="#a3a3a3" stroke-width="1.5" stroke-linejoin="round" />
<path d="M1262.0,1420.0C1261.3,1430.0 1262.5,1461.7 1258.0,1480.0C1253.5,1498.3 1238.8,1521.7 1235.0,1530.0" fill="none" stroke="#a3a3a3" stroke-width="1.5" stroke-linejoin="round" />
<path d="M1308.0,1207.0C1305.0,1205.0 1295.5,1201.2 1290.0,1195.0C1284.5,1188.8 1279.7,1175.0 1275.0,1170.0C1270.3,1165.0 1264.2,1165.8 1262.0,1165.0" fill="none" stroke="#a3a3a3" stroke-width="1.5" stroke-linejoin="round" />
<path d="M1575.0,119.0C1592.5,126.7 1653.3,149.0 1680.0,165.0C1706.7,181.0 1721.7,197.5 1735.0,215.0C1748.3,232.5 1753.3,249.2 1760.0,270.0C1766.7,290.8 1770.8,320.8 1775.0,340.0C1779.2,359.2 1783.3,377.5 1785.0,385.0" fill="none" stroke="#a3a3a3" stroke-width="1.5" stroke-linejoin="round" />
<path d="M1830.0,505.0C1836.7,510.8 1855.8,530.0 1870.0,540.0C1884.2,550.0 1904.2,556.7 1915.0,565.0C1925.8,573.3 1930.5,580.8 1935.0,590.0C1939.5,599.2 1940.8,615.0 1942.0,620.0" fill="none" stroke="#a3a3a3" stroke-width="1.5" stroke-linejoin="round" />
<path d="M2564.0,520.0C2553.8,533.3 2522.5,578.4 2502.7,600.0C2482.9,621.6 2457.8,636.3 2445.3,649.5C2432.8,662.7 2432.1,667.5 2427.5,679.0C2422.9,690.5 2424.2,703.9 2417.6,718.7C2411.0,733.5 2397.9,755.5 2388.0,768.0C2378.1,780.5 2373.1,785.0 2358.3,793.9C2343.5,802.8 2318.8,810.1 2299.0,821.6C2279.2,833.1 2256.1,850.5 2239.6,863.0C2223.1,875.5 2223.3,878.0 2200.0,896.7C2176.7,915.4 2116.7,962.0 2100.0,975.0" fill="none" stroke="#a3a3a3" stroke-width="1.4" stroke-linejoin="round" />
<path d="M2567.0,522.5C2556.8,535.8 2525.5,580.9 2505.7,602.5C2485.9,624.1 2460.8,638.8 2448.3,652.0C2435.8,665.2 2435.1,670.0 2430.5,681.5C2425.9,693.0 2427.2,706.4 2420.6,721.2C2414.0,736.0 2400.9,758.0 2391.0,770.5C2381.1,783.0 2376.1,787.5 2361.3,796.4C2346.5,805.3 2321.8,812.6 2302.0,824.1C2282.2,835.6 2259.1,853.0 2242.6,865.5C2226.1,878.0 2226.3,880.5 2203.0,899.2C2179.7,917.9 2119.7,964.5 2103.0,977.5" fill="none" stroke="#a3a3a3" stroke-width="1.4" stroke-linejoin="round" />
<path d="M2270.0,689.0C2284.7,689.0 2338.0,690.5 2358.0,689.0C2378.0,687.5 2378.0,681.7 2390.0,680.0C2402.0,678.3 2423.3,679.2 2430.0,679.0" fill="none" stroke="#a3a3a3" stroke-width="1.6" stroke-linejoin="round" />
<path d="M645.0,-3.0C649.2,0.4 663.8,9.9 670.0,17.5C676.2,25.1 679.2,34.2 682.5,42.5C685.8,50.8 684.6,56.2 690.0,67.5C695.4,78.8 709.6,97.9 715.0,110.0C720.4,122.1 719.6,125.8 722.5,140.0C725.4,154.2 731.2,180.8 732.5,195.0C733.8,209.2 732.1,215.8 730.0,225.0C727.9,234.2 722.7,241.7 720.0,250.0C717.3,258.3 714.2,263.3 713.8,275.0C713.4,286.7 718.5,308.3 717.5,320.0C716.5,331.7 712.5,339.2 707.5,345.0C702.5,350.8 692.3,350.8 687.5,355.0C682.7,359.2 679.5,364.7 678.8,370.0C678.0,375.3 679.5,381.2 683.0,387.0C686.5,392.8 693.5,398.5 700.0,405.0C706.5,411.5 716.2,411.5 722.0,426.0C727.8,440.5 732.2,471.7 735.0,492.0C737.8,512.3 737.4,522.2 738.6,548.0C739.8,573.8 743.1,622.2 742.0,647.0C740.9,671.8 735.6,683.0 732.0,696.5C728.4,710.0 722.4,722.8 720.5,728.0" fill="none" stroke="#999" stroke-width="1.6" stroke-linejoin="round" />
<path d="M786.3,-3.0C787.8,0.0 792.1,4.1 795.0,15.0C797.9,25.9 801.3,46.2 803.8,62.5C806.3,78.8 806.5,97.1 810.0,112.5C813.5,127.9 821.9,145.4 825.0,155.0C828.1,164.6 828.6,163.3 828.8,170.0C829.0,176.7 827.8,187.5 826.3,195.0C824.8,202.5 820.2,210.2 820.0,215.0C819.8,219.8 822.5,221.9 825.0,223.8C827.5,225.7 817.5,228.2 835.0,226.3C852.5,224.4 911.5,214.0 930.0,212.5C948.5,211.0 943.6,216.7 946.3,217.5" fill="none" stroke="#999" stroke-width="1.6" stroke-linejoin="round" />
<path d="M704.0,770.0C702.0,771.7 694.2,775.8 692.0,780.0C689.8,784.2 689.0,789.7 691.0,795.0C693.0,800.3 701.8,809.2 704.0,812.0" fill="none" stroke="#999" stroke-width="1.6" stroke-linejoin="round" />
<path d="M1470.2,-5 L1470.2,935 Q1470.2,945 1460,945 L1133,944.5 L909,943.7 L742,945 L705,944 Q682,940 672,920 Q660,890 621,889.3 L405,888" fill="none" stroke="#fff" stroke-width="29"/>
<path d="M421,873 L640,871.5 Q672,872 683,905 Q690,926 716,928 L909,925" fill="none" stroke="#fff" stroke-width="11"/>
<polyline points="30.0,65.0 1455.0,66.0" fill="none" stroke="#555" stroke-width="4" stroke-linejoin="round" />
<polyline points="1055.0,305.0 1455.0,307.0" fill="none" stroke="#555" stroke-width="4" stroke-linejoin="round" />
<polyline points="1495.0,308.0 2200.0,312.0 2362.0,313.5" fill="none" stroke="#555" stroke-width="4" stroke-linejoin="round" />
<polyline points="1680.0,0.0 1680.0,119.0 2564.0,121.0" fill="none" stroke="#555" stroke-width="4" stroke-linejoin="round" />
<polyline points="2305.0,0.0 2305.0,312.0" fill="none" stroke="#555" stroke-width="4" stroke-linejoin="round" />
<path d="M2305,276.5 L2352.3,276.5 L2352.3,297 Q2354,305 2359.5,308 L2360,313 Q2362,316 2366,318 Q2378,345 2396,352 Q2410,357 2425,350 L2564,283" fill="none" stroke="#555" stroke-width="4"/>
<polyline points="2470.0,-3.0 2544.5,11.8 2570.0,11.8" fill="none" stroke="#555" stroke-width="4.5" stroke-linejoin="round" />
<polyline points="2500.0,-3.0 2548.0,6.0 2570.0,6.0" fill="none" stroke="#999" stroke-width="1.5" stroke-linejoin="round" />
<polyline points="3.0,318.0 3.0,482.0" fill="none" stroke="#a0a0a0" stroke-width="7" stroke-linejoin="round" />
<polyline points="0.0,485.5 189.0,485.5" fill="none" stroke="#a0a0a0" stroke-width="7" stroke-linejoin="round" stroke-linecap="round"/>
<polyline points="137.3,481.0 136.0,700.0 131.0,1400.0 131.0,1521.0" fill="none" stroke="#a0a0a0" stroke-width="7.5" stroke-linejoin="round" />
<polyline points="131.0,1521.0 335.0,1521.0" fill="none" stroke="#a0a0a0" stroke-width="7" stroke-linejoin="round" />
<polyline points="0.0,1461.0 131.0,1461.0" fill="none" stroke="#a0a0a0" stroke-width="7.7" stroke-linejoin="round" />
<polyline points="334.7,1521.0 334.7,1409.0 534.0,1409.0 534.0,1305.0 715.0,1305.0 722.0,1320.0 740.0,1395.0" fill="none" stroke="#a0a0a0" stroke-width="7" stroke-linejoin="round" />
<path d="M740.0,1395.0C735.3,1395.8 717.7,1401.7 712.0,1400.0C706.3,1398.3 705.3,1389.7 706.0,1385.0C706.7,1380.3 713.3,1370.8 716.0,1372.0C718.7,1373.2 721.0,1388.7 722.0,1392.0" fill="none" stroke="#a0a0a0" stroke-width="6" stroke-linejoin="round" />
<polyline points="0.0,674.0 129.4,674.0 129.4,463.8 176.5,463.8 183.8,471.0" fill="none" stroke="#888" stroke-width="6.5" stroke-linejoin="round" />
<polyline points="327.0,912.0 327.1,1562.0" fill="none" stroke="#626262" stroke-width="8.3" stroke-linejoin="round" />
<circle cx="328.5" cy="1563.5" r="7.6" fill="#626262"/>
<polyline points="131.0,1516.7 327.0,1516.7" fill="none" stroke="#626262" stroke-width="7.7" stroke-linejoin="round" />
<path d="M0.0,1543.0C10.0,1543.5 40.8,1545.7 60.0,1546.0C79.2,1546.3 103.3,1546.3 115.0,1545.0C126.7,1543.7 127.0,1542.7 130.0,1538.0C133.0,1533.3 132.5,1520.5 133.0,1517.0" fill="none" stroke="#626262" stroke-width="7.7" stroke-linejoin="round" />
<polyline points="0.0,1523.0 131.0,1521.0" fill="none" stroke="#626262" stroke-width="7" stroke-linejoin="round" />
<polyline points="0.0,477.5 190.0,477.0 640.0,474.0 640.0,590.0 638.0,890.0" fill="none" stroke="#767676" stroke-width="8" stroke-linejoin="round" />
<polyline points="169.2,440.0 183.8,471.0" fill="none" stroke="#888" stroke-width="10" stroke-linejoin="round" stroke-linecap="round"/>
<path d="M640.4,937.0C641.8,939.8 644.8,948.7 648.7,954.0C652.6,959.3 662.4,963.0 663.8,969.0C665.2,975.0 657.6,979.8 657.0,990.0C656.4,1000.2 658.7,1020.0 660.0,1030.0C661.3,1040.0 661.8,1044.3 665.0,1050.0C668.2,1055.7 673.9,1062.8 679.0,1064.0C684.1,1065.2 689.5,1060.5 695.4,1057.0C701.3,1053.5 709.1,1043.2 714.6,1043.0C720.1,1042.8 723.8,1047.9 728.4,1055.5C733.0,1063.1 738.4,1078.4 742.0,1088.5C745.6,1098.6 748.7,1109.6 750.3,1116.0C751.9,1122.4 753.1,1123.8 751.7,1127.0C750.3,1130.2 745.7,1134.5 742.0,1135.0C738.3,1135.5 732.0,1133.4 729.7,1129.7C727.4,1126.0 725.9,1116.2 728.4,1113.0C730.9,1109.8 742.2,1110.8 745.0,1110.4" fill="none" stroke="#767676" stroke-width="7" stroke-linejoin="round" />
<circle cx="640" cy="743" r="8" fill="none" stroke="#7a7a7a" stroke-width="5"/>
<polyline points="378.0,0.0 378.0,268.0 537.0,268.0 537.0,685.0 422.0,685.0" fill="none" stroke="#a0a0a0" stroke-width="7.8" stroke-linejoin="round" />
<polyline points="425.0,680.0 501.0,897.0 377.0,897.0" fill="none" stroke="#a0a0a0" stroke-width="7" stroke-linejoin="round" />
<path d="M90,0 L90,42 Q92,50 96,58 L350,555 L420,685 L493,893" fill="none" stroke="#686868" stroke-width="6.8" stroke-linejoin="round"/>
<polyline points="30.0,65.0 150.0,318.0" fill="none" stroke="#a3a3a3" stroke-width="1.5" stroke-linejoin="round" />
<polyline points="60.0,65.0 190.0,318.0" fill="none" stroke="#a3a3a3" stroke-width="1.5" stroke-linejoin="round" />
<polyline points="951.0,0.0 951.0,305.0 1066.0,305.0 1067.5,905.0" fill="none" stroke="#a0a0a0" stroke-width="8" stroke-linejoin="round" />
<polyline points="2433.0,478.0 2230.0,476.5 2002.0,474.0 1470.0,472.0 943.4,471.0 943.4,905.0" fill="none" stroke="#ababab" stroke-width="7.8" stroke-linejoin="round" />
<polyline points="2507.0,480.0 2540.0,480.0 2548.0,478.0 2564.0,478.0" fill="none" stroke="#a3a3a3" stroke-width="1.6" stroke-linejoin="round" />
<polyline points="1055.0,0.0 1058.7,905.0" fill="none" stroke="#626262" stroke-width="7.5" stroke-linejoin="round" />
<polyline points="1056.0,1020.0 1047.0,1420.0 1260.0,1420.0 1260.0,1350.0 1500.0,1350.0 1368.0,1432.0 1367.0,1562.0 1296.0,1591.0 1259.0,1585.0 1254.0,1578.0 1284.0,1529.0 1366.0,1523.0" fill="none" stroke="#626262" stroke-width="8" stroke-linejoin="round" />
<polyline points="1042.0,905.0 1041.0,682.0 1470.0,684.0 1888.0,688.0 2249.6,689.7 2570.0,382.7" fill="none" stroke="#636363" stroke-width="7.2" stroke-linejoin="round" />
<polyline points="2530.0,441.6 2570.0,403.5" fill="none" stroke="#555" stroke-width="5" stroke-linejoin="round" />
<circle cx="1041" cy="682" r="5" fill="#636363"/>
<path d="M1048.0,1830.0C1052.5,1820.0 1063.3,1793.3 1075.0,1770.0C1086.7,1746.7 1100.5,1718.3 1118.0,1690.0C1135.5,1661.7 1156.7,1630.8 1180.0,1600.0C1203.3,1569.2 1236.3,1528.0 1258.0,1505.0C1279.7,1482.0 1291.7,1475.3 1310.0,1462.0C1328.3,1448.7 1358.3,1431.2 1368.0,1425.0" fill="none" stroke="#999999" stroke-width="7" stroke-linejoin="round" />
<polyline points="1368.0,1425.0 1518.0,1335.0 1743.0,1187.0 1817.0,1127.0 2100.0,852.0 2254.8,695.1 2341.0,612.5 2575.0,388.2" fill="none" stroke="#999999" stroke-width="8" stroke-linejoin="round" />
<polyline points="2490.0,440.0 2533.0,403.0" fill="none" stroke="#b8b8b8" stroke-width="6.5" stroke-linejoin="round" stroke-linecap="round"/>
<path d="M2580.0,292.0C2563.3,300.0 2510.7,323.3 2480.0,340.0C2449.3,356.7 2421.0,374.5 2396.0,392.0C2371.0,409.5 2350.8,427.0 2330.0,445.0C2309.2,463.0 2289.2,484.5 2271.0,500.0C2252.8,515.5 2236.2,529.5 2221.0,538.0C2205.8,546.5 2192.5,548.0 2180.0,551.0C2167.5,554.0 2164.3,554.5 2146.0,556.0C2127.7,557.5 2091.7,557.7 2070.0,560.0C2048.3,562.3 2035.0,563.3 2016.0,570.0C1997.0,576.7 1971.7,586.7 1956.0,600.0C1940.3,613.3 1930.0,625.0 1922.0,650.0C1914.0,675.0 1910.9,716.3 1908.0,750.0C1905.1,783.7 1905.3,835.0 1904.8,852.0" fill="none" stroke="#999999" stroke-width="10.5" stroke-linejoin="round" />
<path d="M1904.8,848.0C1905.0,858.0 1905.0,884.9 1905.8,907.7C1906.6,930.5 1907.7,962.2 1909.6,984.6C1911.5,1007.0 1914.1,1019.9 1917.3,1042.3C1920.5,1064.7 1923.0,1092.9 1928.8,1119.2C1934.6,1145.5 1943.2,1179.0 1951.9,1200.0C1960.6,1221.0 1965.3,1220.8 1981.0,1245.0C1996.7,1269.2 2022.7,1310.8 2046.0,1345.0C2069.3,1379.2 2096.8,1409.0 2121.0,1450.0C2145.2,1491.0 2179.3,1567.5 2191.0,1591.0" fill="none" stroke="#999999" stroke-width="9" stroke-linejoin="round" />
<path d="M2000.0,585.0C1991.7,591.7 1961.7,607.5 1950.0,625.0C1938.3,642.5 1934.7,660.8 1930.0,690.0C1925.3,719.2 1922.8,763.3 1922.0,800.0C1921.2,836.7 1922.8,876.7 1925.0,910.0C1927.2,943.3 1931.7,968.3 1935.0,1000.0C1938.3,1031.7 1943.3,1083.3 1945.0,1100.0" fill="none" stroke="#a0a0a0" stroke-width="2" stroke-linejoin="round" />
<path d="M1915.0,910.0C1916.7,925.0 1922.2,975.0 1925.0,1000.0C1927.8,1025.0 1930.8,1050.0 1932.0,1060.0" fill="none" stroke="#a0a0a0" stroke-width="2" stroke-linejoin="round" />
<polyline points="1101.0,1712.0 1060.0,1800.0 825.0,2292.0" fill="none" stroke="#a0a0a0" stroke-width="8" stroke-linejoin="round" />
<polyline points="1111.0,1720.0 1076.0,1800.0 841.0,2292.0" fill="none" stroke="#a0a0a0" stroke-width="4" stroke-linejoin="round" />
<polyline points="1090.0,1712.0 1045.0,1800.0 810.0,2292.0" fill="none" stroke="#a0a0a0" stroke-width="4" stroke-linejoin="round" />
<path d="M975.0,1700.0C980.8,1710.0 1002.5,1738.3 1010.0,1760.0C1017.5,1781.7 1021.7,1806.7 1020.0,1830.0C1018.3,1853.3 1003.3,1888.3 1000.0,1900.0" fill="none" stroke="#a0a0a0" stroke-width="3" stroke-linejoin="round" />
<polyline points="1103.0,1707.0 1199.0,1788.0 1408.0,1947.0" fill="none" stroke="#a0a0a0" stroke-width="6" stroke-linejoin="round" />
<path d="M1408.0,1947.0C1411.7,1948.8 1418.0,1955.3 1430.0,1958.0C1442.0,1960.7 1463.3,1961.3 1480.0,1963.0C1496.7,1964.7 1521.7,1967.2 1530.0,1968.0" fill="none" stroke="#a0a0a0" stroke-width="6" stroke-linejoin="round" />
<path d="M1420.0,1956.0C1428.3,1958.0 1455.8,1963.2 1470.0,1968.0C1484.2,1972.8 1495.5,1978.8 1505.0,1985.0C1514.5,1991.2 1523.3,2001.7 1527.0,2005.0" fill="none" stroke="#444" stroke-width="5" stroke-linejoin="round" />
<polyline points="1527.0,2222.0 1465.0,2252.0 1470.0,2292.0" fill="none" stroke="#444" stroke-width="6" stroke-linejoin="round" />
<path d="M718.7,2017.0C730.6,2023.0 769.0,2042.2 790.0,2053.0C811.0,2063.8 828.1,2073.1 844.4,2081.8C860.7,2090.5 880.4,2101.5 887.6,2105.4" fill="none" stroke="#999999" stroke-width="10" stroke-linejoin="round" />
<path d="M860.0,2090.0C867.5,2092.8 890.0,2106.2 905.0,2107.0C920.0,2107.8 936.7,2102.8 950.0,2095.0C963.3,2087.2 979.2,2065.8 985.0,2060.0" fill="none" stroke="#a0a0a0" stroke-width="5" stroke-linejoin="round" />
<path d="M887.6,2105.4C890.9,2108.7 903.4,2117.6 907.3,2125.0C911.2,2132.4 912.4,2137.5 911.2,2150.0C910.0,2162.5 906.9,2180.0 900.0,2200.0C893.1,2220.0 875.0,2258.3 870.0,2270.0" fill="none" stroke="#a0a0a0" stroke-width="5" stroke-linejoin="round" />
<path d="M720.0,2010.0C733.3,2018.3 775.0,2045.0 800.0,2060.0C825.0,2075.0 855.0,2086.7 870.0,2100.0C885.0,2113.3 887.5,2123.3 890.0,2140.0C892.5,2156.7 891.7,2174.7 885.0,2200.0C878.3,2225.3 855.8,2276.7 850.0,2292.0" fill="none" stroke="#a0a0a0" stroke-width="4" stroke-linejoin="round" />
<path d="M850.0,2070.0C858.3,2070.8 885.0,2076.7 900.0,2075.0C915.0,2073.3 927.5,2069.2 940.0,2060.0C952.5,2050.8 969.2,2026.7 975.0,2020.0" fill="none" stroke="#a0a0a0" stroke-width="4" stroke-linejoin="round" />
<path d="M395.0,895.0C399.8,901.2 407.7,914.3 424.0,932.0C440.3,949.7 468.7,974.5 493.0,1001.0C517.3,1027.5 545.5,1062.0 570.0,1091.0C594.5,1120.0 618.3,1152.7 640.0,1175.0C661.7,1197.3 683.8,1214.7 700.0,1225.0C716.2,1235.3 723.7,1230.8 737.0,1237.0C750.3,1243.2 767.5,1251.5 780.0,1262.0C792.5,1272.5 805.0,1280.3 812.0,1300.0C819.0,1319.7 819.7,1355.0 822.0,1380.0C824.3,1405.0 823.8,1430.8 826.0,1450.0C828.2,1469.2 833.5,1487.5 835.0,1495.0" fill="none" stroke="#fff" stroke-width="12" stroke-linejoin="round" />
<path d="M395.0,895.0C399.8,901.2 407.7,914.3 424.0,932.0C440.3,949.7 468.7,974.5 493.0,1001.0C517.3,1027.5 545.5,1062.0 570.0,1091.0C594.5,1120.0 618.3,1152.7 640.0,1175.0C661.7,1197.3 683.8,1214.7 700.0,1225.0C716.2,1235.3 723.7,1230.8 737.0,1237.0C750.3,1243.2 767.5,1251.5 780.0,1262.0C792.5,1272.5 805.0,1280.3 812.0,1300.0C819.0,1319.7 819.7,1355.0 822.0,1380.0C824.3,1405.0 823.8,1430.8 826.0,1450.0C828.2,1469.2 833.5,1487.5 835.0,1495.0" fill="none" stroke="#999999" stroke-width="7.5" stroke-linejoin="round" />
<path d="M835.0,1495.0C832.5,1500.8 827.5,1522.5 820.0,1530.0C812.5,1537.5 798.3,1541.7 790.0,1540.0C781.7,1538.3 770.0,1526.7 770.0,1520.0C770.0,1513.3 781.7,1501.7 790.0,1500.0C798.3,1498.3 815.0,1508.3 820.0,1510.0" fill="none" stroke="#999999" stroke-width="9" stroke-linejoin="round" />
<path d="M800.0,1530.0C810.0,1536.7 836.7,1556.7 860.0,1570.0C883.3,1583.3 913.3,1593.3 940.0,1610.0C966.7,1626.7 993.2,1653.0 1020.0,1670.0C1046.8,1687.0 1087.5,1705.0 1101.0,1712.0" fill="none" stroke="#999999" stroke-width="6" stroke-linejoin="round" />
<path d="M-19,-5 L408,875 L409.0,875.0C413.7,882.7 420.8,901.8 437.0,921.0C453.2,940.2 481.7,963.5 506.0,990.0C530.3,1016.5 557.3,1049.5 583.0,1080.0C608.7,1110.5 640.3,1146.8 660.0,1173.0C679.7,1199.2 686.3,1213.3 701.0,1237.0C715.7,1260.7 737.7,1289.8 748.0,1315.0C758.3,1340.2 757.3,1367.8 763.0,1388.0C768.7,1408.2 775.5,1423.7 782.0,1436.0C788.5,1448.3 792.3,1453.0 802.0,1462.0C811.7,1471.0 831.2,1477.8 840.0,1490.0C848.8,1502.2 852.2,1518.3 855.0,1535.0C857.8,1551.7 858.7,1572.5 857.0,1590.0C855.3,1607.5 849.0,1620.8 845.0,1640.0C841.0,1659.2 835.7,1683.3 833.0,1705.0C830.3,1726.7 830.2,1751.3 829.0,1770.0C827.8,1788.7 830.8,1794.2 826.0,1817.0C821.2,1839.8 812.7,1881.2 800.0,1907.0C787.3,1932.8 765.5,1955.3 750.0,1972.0C734.5,1988.7 726.6,1993.9 706.9,2007.0C687.2,2020.1 654.3,2037.9 632.0,2050.4C609.7,2062.9 587.4,2075.1 573.0,2082.0C558.6,2088.9 562.1,2088.7 545.8,2091.6C529.5,2094.5 499.9,2096.6 475.0,2099.5C450.1,2102.4 419.4,2104.1 396.5,2109.0C373.6,2113.9 352.6,2122.4 337.5,2129.0C322.4,2135.6 312.9,2142.1 306.0,2148.6C299.1,2155.1 296.0,2160.8 296.0,2168.0C296.0,2175.2 301.1,2182.8 306.0,2192.0C310.9,2201.2 322.1,2205.0 325.7,2223.0C329.3,2241.0 327.4,2287.2 327.7,2300.0" fill="none" stroke="#fff" stroke-width="27" stroke-linejoin="round"/>
<path d="M-19,-5 L408,875 L409.0,875.0C413.7,882.7 420.8,901.8 437.0,921.0C453.2,940.2 481.7,963.5 506.0,990.0C530.3,1016.5 557.3,1049.5 583.0,1080.0C608.7,1110.5 640.3,1146.8 660.0,1173.0C679.7,1199.2 686.3,1213.3 701.0,1237.0C715.7,1260.7 737.7,1289.8 748.0,1315.0C758.3,1340.2 757.3,1367.8 763.0,1388.0C768.7,1408.2 775.5,1423.7 782.0,1436.0C788.5,1448.3 792.3,1453.0 802.0,1462.0C811.7,1471.0 831.2,1477.8 840.0,1490.0C848.8,1502.2 852.2,1518.3 855.0,1535.0C857.8,1551.7 858.7,1572.5 857.0,1590.0C855.3,1607.5 849.0,1620.8 845.0,1640.0C841.0,1659.2 835.7,1683.3 833.0,1705.0C830.3,1726.7 830.2,1751.3 829.0,1770.0C827.8,1788.7 830.8,1794.2 826.0,1817.0C821.2,1839.8 812.7,1881.2 800.0,1907.0C787.3,1932.8 765.5,1955.3 750.0,1972.0C734.5,1988.7 726.6,1993.9 706.9,2007.0C687.2,2020.1 654.3,2037.9 632.0,2050.4C609.7,2062.9 587.4,2075.1 573.0,2082.0C558.6,2088.9 562.1,2088.7 545.8,2091.6C529.5,2094.5 499.9,2096.6 475.0,2099.5C450.1,2102.4 419.4,2104.1 396.5,2109.0C373.6,2113.9 352.6,2122.4 337.5,2129.0C322.4,2135.6 312.9,2142.1 306.0,2148.6C299.1,2155.1 296.0,2160.8 296.0,2168.0C296.0,2175.2 301.1,2182.8 306.0,2192.0C310.9,2201.2 322.1,2205.0 325.7,2223.0C329.3,2241.0 327.4,2287.2 327.7,2300.0" fill="none" stroke="#444" stroke-width="20.6" stroke-linejoin="round"/>
<path d="M421,873 L640,871.5 Q672,872 683,905 Q690,926 716,928 L909,925" fill="none" stroke="#666" stroke-width="7"/>
<path d="M1470.2,-5 L1470.2,935 Q1470.2,945 1460,945 L1133,944.5 L909,943.7 L742,945 L705,944 Q682,940 672,920 Q660,890 621,889.3 L405,888" fill="none" stroke="#585858" stroke-width="20.3"/>
<path d="M333,890 L400,888" fill="none" stroke="#666" stroke-width="6"/>
<path d="M1888.5,-5 L1888.5,888.5 L1860.6,957.7 L1844.2,1050 L1867.3,1077.9 L1840.4,1102.9 L1934.6,1103.8 L1951.9,1098 L2019.2,1046.2 L2023,1067.3" fill="none" stroke="#2b98bd" stroke-width="16" stroke-linejoin="round" stroke-linecap="round"/>
<path d="M2019.5,1049 L2022,1066" fill="none" stroke="#2b98bd" stroke-width="23" stroke-linecap="round"/>
<path d="M-5,683 L290,683 L324.5,747 L324.5,912 L621,912.6 Q645,914 657,940 Q668,962 697,963.5 L915,963.5" fill="none" stroke="#000072" stroke-width="16" stroke-linejoin="round"/>
<path d="M371.2,841.2 L387.7,874.2" fill="none" stroke="#666" stroke-width="44" stroke-linecap="round"/>
<path d="M371.2,841.2 L387.7,874.2" fill="none" stroke="#ececec" stroke-width="35" stroke-linecap="round"/>
<path d="M371.2,841.2 L387.7,874.2" fill="none" stroke="#fff" stroke-width="31" stroke-linecap="round"/>
<path d="M371.2,842 L387.3,874.2" fill="none" stroke="#000072" stroke-width="24" stroke-linecap="round"/>
<path d="M384,876 L371,909" fill="none" stroke="#000072" stroke-width="14"/>
<path d="M1067,1015 L1188,1255 L1243,1342 L1500,1340 L1510,1352 L1373,1440 L1375,1570 L1293,1600 L1253,1592 L1245,1580 L1278,1525 L1363,1517" fill="none" stroke="#000072" stroke-width="15" stroke-linejoin="round" stroke-linecap="round"/>
<text class="st" x="150" y="55" textLength="169" lengthAdjust="spacingAndGlyphs">Marshall Ave</text>
<text class="st" x="401" y="466" textLength="94" lengthAdjust="spacingAndGlyphs">38th St</text>
<text class="st" x="424" y="670" textLength="101" lengthAdjust="spacingAndGlyphs">42nd St</text>
<text class="st" x="167" y="1086" textLength="94" lengthAdjust="spacingAndGlyphs">50th St</text>
<text class="st" x="166" y="1295" textLength="94" lengthAdjust="spacingAndGlyphs">54th St</text>
<text class="st" x="1161" y="460" textLength="191" lengthAdjust="spacingAndGlyphs">Saint Clair Ave</text>
<text class="st" x="1589" y="345" textLength="141" lengthAdjust="spacingAndGlyphs">Grand Ave</text>
<text class="st" x="1563" y="571" textLength="182" lengthAdjust="spacingAndGlyphs">Jefferson Ave</text>
<text class="st" x="1162" y="652" textLength="183" lengthAdjust="spacingAndGlyphs">Randolph Ave</text>
<text class="st" x="1157" y="878" textLength="197" lengthAdjust="spacingAndGlyphs">Highland Pkwy</text>
<text class="st" x="1905" y="55" textLength="169" lengthAdjust="spacingAndGlyphs">Marshall Ave</text>
<text class="st" x="2114" y="262" textLength="159" lengthAdjust="spacingAndGlyphs">Summit Ave</text>
<text class="st" x="1486" y="1087" textLength="178" lengthAdjust="spacingAndGlyphs">Montreal Ave</text>
<text class="st" x="1413" y="1196" textLength="181" lengthAdjust="spacingAndGlyphs">Edgcumbe Rd</text>
<text class="st" transform="translate(249,95) rotate(90)" textLength="117" lengthAdjust="spacingAndGlyphs">31st Ave</text>
<text class="st" transform="translate(389,92) rotate(90)" textLength="120" lengthAdjust="spacingAndGlyphs">36th Ave</text>
<text class="st" transform="translate(543,89) rotate(90)" textLength="126" lengthAdjust="spacingAndGlyphs">42nd Ave</text>
<text class="st" transform="translate(647,95) rotate(90)" textLength="120" lengthAdjust="spacingAndGlyphs">46th Ave</text>
<text class="st" transform="translate(961,77) rotate(90)" textLength="139" lengthAdjust="spacingAndGlyphs">Cretin Ave</text>
<text class="st" transform="translate(1088,76) rotate(90)" textLength="189" lengthAdjust="spacingAndGlyphs">Cleveland Ave</text>
<text class="st" transform="translate(1161,79) rotate(90)" textLength="123" lengthAdjust="spacingAndGlyphs">Prior Ave</text>
<text class="st" transform="translate(1270,80) rotate(90)" textLength="169" lengthAdjust="spacingAndGlyphs">Fairview Ave</text>
<text class="st" transform="translate(1496,80) rotate(90)" textLength="162" lengthAdjust="spacingAndGlyphs">Snelling Ave</text>
<text class="st" transform="translate(1687,77) rotate(90)" textLength="168" lengthAdjust="spacingAndGlyphs">Hamline Ave</text>
<text class="st" transform="translate(1496,753) rotate(90)" textLength="162" lengthAdjust="spacingAndGlyphs">Snelling Ave</text>
<text class="st" transform="translate(1907,327) rotate(90)" textLength="210" lengthAdjust="spacingAndGlyphs">Lexington Pkwy</text>
<text class="st" transform="translate(2105,326) rotate(90)" textLength="135" lengthAdjust="spacingAndGlyphs">Victoria St</text>
<text class="st" transform="translate(279,752) rotate(90)" textLength="120" lengthAdjust="spacingAndGlyphs">34th Ave</text>
<text class="st" transform="translate(1337,1152) rotate(90)" textLength="130" lengthAdjust="spacingAndGlyphs">Davern St</text>
<text class="st" transform="translate(1784,756) rotate(98.6)" textLength="181" lengthAdjust="spacingAndGlyphs">Edgcumbe Rd</text>
<text class="st" transform="translate(244,341) rotate(60)" textLength="207" lengthAdjust="spacingAndGlyphs">Minnehaha Ave</text>
<text class="st" transform="translate(1101,1044) rotate(59.7)" textLength="195" lengthAdjust="spacingAndGlyphs">Saint Paul Ave</text>
<text class="st" transform="translate(1511,1330) rotate(-33.6)" textLength="222" lengthAdjust="spacingAndGlyphs">7th Street West</text>
<text class="st" transform="translate(1586,1420) rotate(-38)" textLength="166" lengthAdjust="spacingAndGlyphs">Shepard Rd</text>
<rect x="120" y="124" width="50" height="64" fill="#fff" stroke="#808080" stroke-width="1.8"/>
<text class="bx" x="145.0" y="169.3" style="font-size:37px">7</text>
<rect x="24" y="223" width="196" height="63" fill="#fff" stroke="#555" stroke-width="1.8"/>
<text class="bx" x="122.0" y="267.8" style="font-size:37px" textLength="153" lengthAdjust="spacingAndGlyphs">Blue Line</text>
<rect x="339" y="554" width="50" height="64" fill="#fff" stroke="#808080" stroke-width="1.8"/>
<text class="bx" x="364.0" y="599.3" style="font-size:37px">7</text>
<rect x="509" y="554" width="50" height="64" fill="#fff" stroke="#aaa" stroke-width="1.8"/>
<text class="bx" x="534.0" y="599.3" style="font-size:37px">9</text>
<rect x="603" y="558" width="74" height="63" fill="#fff" stroke="#808080" stroke-width="1.8"/>
<text class="bx" x="640.0" y="602.8" style="font-size:37px">23</text>
<rect x="178" y="651" width="74" height="64" fill="#fff" stroke="#000072" stroke-width="2"/>
<text class="bx" x="215.0" y="696.3" style="font-size:37px">46</text>
<rect x="547" y="836" width="74" height="64" fill="#fff" stroke="#808080" stroke-width="1.8"/>
<text class="bx" x="584.0" y="881.3" style="font-size:37px">74</text>
<rect x="98" y="859" width="74" height="64" fill="#fff" stroke="#aaa" stroke-width="1.8"/>
<text class="bx" x="135.0" y="904.3" style="font-size:37px">22</text>
<rect x="622" y="986" width="74" height="64" fill="#fff" stroke="#808080" stroke-width="1.8"/>
<text class="bx" x="659.0" y="1031.3" style="font-size:37px">23</text>
<rect x="1017" y="380" width="95" height="63" fill="#fff" stroke="#aaa" stroke-width="1.8"/>
<text class="bx" x="1064.5" y="424.8" style="font-size:37px">134</text>
<rect x="1022" y="506" width="74" height="64" fill="#fff" stroke="#666" stroke-width="1.8"/>
<text class="bx" x="1059.0" y="551.3" style="font-size:37px">87</text>
<rect x="1533" y="441" width="74" height="63" fill="#fff" stroke="#aaa" stroke-width="1.8"/>
<text class="bx" x="1570.0" y="485.8" style="font-size:37px">70</text>
<rect x="1396" y="355" width="148" height="63" fill="#fff" stroke="#555" stroke-width="1.8"/>
<text class="bx" x="1470.0" y="399.8" style="font-size:37px" textLength="106" lengthAdjust="spacingAndGlyphs">A Line</text>
<rect x="1642" y="656" width="74" height="64" fill="#fff" stroke="#555" stroke-width="1.8"/>
<text class="bx" x="1679.0" y="701.3" style="font-size:37px">74</text>
<rect x="1850" y="161" width="75" height="63" fill="#fff" stroke="#2b98bd" stroke-width="2"/>
<text class="bx" x="1887.5" y="205.8" style="font-size:37px">83</text>
<rect x="1853" y="749" width="74" height="63" fill="#fff" stroke="#2b98bd" stroke-width="2"/>
<text class="bx" x="1890.0" y="793.8" style="font-size:37px">83</text>
<rect x="2156" y="445" width="74" height="63" fill="#fff" stroke="#aaa" stroke-width="1.8"/>
<text class="bx" x="2193.0" y="489.8" style="font-size:37px">70</text>
<rect x="2434" y="443" width="73" height="63" fill="#fff" stroke="#555" stroke-width="2.5"/>
<text class="bx" x="2470.5" y="487.8" style="font-size:37px">74</text>
<rect x="2339" y="554" width="73" height="62" fill="#fff" stroke="#999" stroke-width="1.8"/>
<text class="bx" x="2375.5" y="598.3" style="font-size:37px">54</text>
<rect x="1744" y="1126" width="73" height="63" fill="#fff" stroke="#999" stroke-width="1.8"/>
<text class="bx" x="1780.5" y="1170.8" style="font-size:37px">54</text>
<rect x="1213" y="914" width="147" height="63" fill="#fff" stroke="#555" stroke-width="1.8"/>
<text class="bx" x="1286.5" y="958.8" style="font-size:37px" textLength="106" lengthAdjust="spacingAndGlyphs">A Line</text>
<rect x="1017" y="1268" width="72" height="63" fill="#fff" stroke="#666" stroke-width="1.8"/>
<text class="bx" x="1053.0" y="1312.8" style="font-size:37px">87</text>
<rect x="1184" y="1266" width="74" height="63" fill="#fff" stroke="#000072" stroke-width="2"/>
<text class="bx" x="1221.0" y="1310.8" style="font-size:37px">46</text>
<rect x="401" y="1375" width="74" height="63" fill="#fff" stroke="#aaa" stroke-width="1.8"/>
<text class="bx" x="438.0" y="1419.8" style="font-size:37px">22</text>
<rect x="576" y="1172" width="195" height="64" fill="#fff" stroke="#555" stroke-width="1.8"/>
<text class="bx" x="673.5" y="1217.3" style="font-size:37px" textLength="153" lengthAdjust="spacingAndGlyphs">Blue Line</text>
<rect x="740" y="1751" width="195" height="64" fill="#fff" stroke="#555" stroke-width="1.8"/>
<text class="bx" x="837.5" y="1796.3" style="font-size:37px" textLength="153" lengthAdjust="spacingAndGlyphs">Blue Line</text>
<rect x="977" y="1868" width="73" height="64" fill="#fff" stroke="#999" stroke-width="1.8"/>
<text class="bx" x="1013.5" y="1913.3" style="font-size:37px">54</text>
<circle cx="620" cy="1139" r="23" fill="#fff" stroke="#b5b5b5" stroke-width="2"/>
<text x="620" y="1149" text-anchor="middle" style="font-size:27px;font-weight:bold;fill:#a0a0a0">55</text>
<circle cx="473" cy="1504" r="23" fill="#fff" stroke="#b5b5b5" stroke-width="2"/>
<text x="473" y="1514" text-anchor="middle" style="font-size:27px;font-weight:bold;fill:#a0a0a0">62</text>
<circle cx="1199" cy="1788" r="23" fill="#fff" stroke="#b5b5b5" stroke-width="2"/>
<text x="1199" y="1798" text-anchor="middle" style="font-size:27px;font-weight:bold;fill:#a0a0a0">55</text>
<circle cx="974" cy="2002" r="23" fill="#fff" stroke="#b5b5b5" stroke-width="2"/>
<text x="974" y="2012" text-anchor="middle" style="font-size:27px;font-weight:bold;fill:#a0a0a0">5</text>
<circle cx="1600" cy="2305" r="23" fill="#fff" stroke="#b5b5b5" stroke-width="2"/>
<text x="1600" y="2315" text-anchor="middle" style="font-size:27px;font-weight:bold;fill:#a0a0a0">55</text>
<defs><filter id="sh" x="-30%" y="-30%" width="160%" height="160%"><feGaussianBlur in="SourceAlpha" stdDeviation="14"/><feOffset dx="5" dy="7"/><feComponentTransfer><feFuncA type="linear" slope="0.38"/></feComponentTransfer><feMerge><feMergeNode/><feMergeNode in="SourceGraphic"/></feMerge></filter></defs>
<line x1="810" y1="885" x2="925" y2="1048" stroke="#000" stroke-width="2.5"/>
<circle cx="925" cy="1048" r="11" fill="#000"/>
<rect x="704" y="730" width="214" height="155" fill="#fff" stroke="#999" stroke-width="1"/>
<rect x="704" y="728" width="214" height="7" fill="#000"/>
<text x="814.5" y="778.5" text-anchor="middle" textLength="155" lengthAdjust="spacingAndGlyphs" style="font-size:33px;font-weight:bold;fill:#000">Ford Site/</text>
<text x="814.5" y="819" text-anchor="middle" textLength="139" lengthAdjust="spacingAndGlyphs" style="font-size:33px;font-weight:bold;fill:#000">Highland</text>
<text x="814.5" y="860" text-anchor="middle" textLength="102" lengthAdjust="spacingAndGlyphs" style="font-size:33px;font-weight:bold;fill:#000">Bridge</text>
<g filter="url(#sh)"><rect x="909" y="901.4" width="224.70000000000005" height="120.80000000000007" fill="#000072"/></g>
<rect x="1021.4" y="910.1" width="103.89999999999998" height="103.89999999999998" fill="#fff"/>
<text x="1074.1499999999999" y="978.25" text-anchor="middle" textLength="55.5" lengthAdjust="spacingAndGlyphs" style="font-size:51.5px;font-weight:bold;fill:#000">46</text>
<g transform="translate(964.9,962.1) rotate(-45)" fill="#fff"><polygon points="45.9,0 22.9,-23 22.9,-8.1 4.8,-8.1 4.8,8.1 22.9,8.1 22.9,23"/><polygon points="-45.9,0 -22.9,-23 -22.9,-8.1 -4.8,-8.1 -4.8,8.1 -22.9,8.1 -22.9,23"/></g>
<g filter="url(#sh)"><rect x="1776.5" y="380.5" width="225.20000000000005" height="121.30000000000001" fill="#2b98bd"/></g>
<rect x="1889" y="389.2" width="104" height="103.80000000000001" fill="#fff"/>
<text x="1941.8" y="457.3" text-anchor="middle" textLength="55.5" lengthAdjust="spacingAndGlyphs" style="font-size:51.5px;font-weight:bold;fill:#000">83</text>
<g transform="translate(1832.65,441.2) rotate(-45)" fill="#fff"><polygon points="45.9,0 22.9,-23 22.9,-8.1 4.8,-8.1 4.8,8.1 22.9,8.1 22.9,23"/><polygon points="-45.9,0 -22.9,-23 -22.9,-8.1 -4.8,-8.1 -4.8,8.1 -22.9,8.1 -22.9,23"/></g>
<clipPath id="shc"><path d="M3.5,0.8 Q26,5.5 48.7,0 Q71.5,5.5 94.7,0.8 Q97.5,9 98.2,17 L98.2,26 C97.5,45 85,62 66.4,70.3 Q57,75 48.7,78.2 Q40,75 31.8,70.3 C13,62 0.7,45 0,26 L0,17 Q0.7,9 3.5,0.8Z"/></clipPath>
<g transform="translate(2017.9,524)"><path d="M3.5,0.8 Q26,5.5 48.7,0 Q71.5,5.5 94.7,0.8 Q97.5,9 98.2,17 L98.2,26 C97.5,45 85,62 66.4,70.3 Q57,75 48.7,78.2 Q40,75 31.8,70.3 C13,62 0.7,45 0,26 L0,17 Q0.7,9 3.5,0.8Z" fill="#333"/><g clip-path="url(#shc)"><rect x="0" y="0" width="99" height="15.7" fill="#4d4d4d"/><rect x="0" y="15.7" width="99" height="1.6" fill="#fff"/></g><text x="48.7" y="14.1" text-anchor="middle" textLength="52.6" lengthAdjust="spacingAndGlyphs" style="font-size:12px;fill:#fff;font-weight:bold">INTERSTATE</text><text x="48.9" y="59.3" text-anchor="middle" textLength="65.6" lengthAdjust="spacingAndGlyphs" style="font-size:50px;fill:#fff;font-weight:bold">35E</text></g>
<g transform="translate(1955.5,1259)"><path d="M3.5,0.8 Q26,5.5 48.7,0 Q71.5,5.5 94.7,0.8 Q97.5,9 98.2,17 L98.2,26 C97.5,45 85,62 66.4,70.3 Q57,75 48.7,78.2 Q40,75 31.8,70.3 C13,62 0.7,45 0,26 L0,17 Q0.7,9 3.5,0.8Z" fill="#333"/><g clip-path="url(#shc)"><rect x="0" y="0" width="99" height="15.7" fill="#4d4d4d"/><rect x="0" y="15.7" width="99" height="1.6" fill="#fff"/></g><text x="48.7" y="14.1" text-anchor="middle" textLength="52.6" lengthAdjust="spacingAndGlyphs" style="font-size:12px;fill:#fff;font-weight:bold">INTERSTATE</text><text x="48.9" y="59.3" text-anchor="middle" textLength="65.6" lengthAdjust="spacingAndGlyphs" style="font-size:50px;fill:#fff;font-weight:bold">35E</text></g>
<polygon points="411,1675 336,1800 485,1800" fill="#000"/>
<text x="411" y="1772" text-anchor="middle" style="font-size:36px;font-weight:bold;fill:#fff">N</text>
<text x="411" y="1859" text-anchor="middle" textLength="338" lengthAdjust="spacingAndGlyphs" style="font-size:35px;fill:#000">Minneapolis-Saint Paul</text>
<text x="411" y="1898" text-anchor="middle" textLength="302" lengthAdjust="spacingAndGlyphs" style="font-size:35px;fill:#000">International Airport</text>
<rect x="1529" y="1594" width="991" height="646" fill="#fff" stroke="#000" stroke-width="5"/>
<rect x="1527" y="1591" width="931" height="0" fill="#000"/>
<rect x="1527" y="1591" width="995" height="158" fill="#000"/>
<text x="2024.5" y="1657" text-anchor="middle" textLength="826" lengthAdjust="spacingAndGlyphs" style="font-size:43px;font-weight:bold;fill:#fff">Blue Line/Riverview Connection Study</text>
<text x="2024.5" y="1721" text-anchor="middle" textLength="892" lengthAdjust="spacingAndGlyphs" style="font-size:51px;font-weight:bold;fill:#fff">Option 2 – Local Bus Improvements</text>
<line x1="1579" y1="1803" x2="1677" y2="1803" stroke="#444" stroke-width="13" stroke-linecap="butt"/>
<text class="lg" x="1693" y="1809.5" textLength="202" lengthAdjust="spacingAndGlyphs">METRO Blue line</text>
<line x1="1579" y1="1869" x2="1677" y2="1869" stroke="#595959" stroke-width="13" stroke-linecap="butt"/>
<text class="lg" x="1693" y="1880.5" textLength="174" lengthAdjust="spacingAndGlyphs">METRO A Line</text>
<line x1="1578" y1="1931" x2="1679" y2="1931" stroke="#666" stroke-width="3.2" stroke-linecap="butt"/>
<text class="lg" x="1693" y="1943">7</text>
<line x1="1578" y1="1991" x2="1679" y2="1991" stroke="#aaa" stroke-width="3.2" stroke-linecap="butt"/>
<text class="lg" x="1693" y="2002">9</text>
<line x1="1575" y1="2053" x2="1677" y2="2053" stroke="#aaa" stroke-width="3.2" stroke-linecap="butt"/>
<text class="lg" x="1693" y="2064.5">22</text>
<line x1="1575" y1="2117" x2="1677" y2="2117" stroke="#777" stroke-width="3.2" stroke-linecap="butt"/>
<text class="lg" x="1693" y="2128.5">23</text>
<line x1="1576" y1="2169" x2="1674" y2="2169" stroke="#000072" stroke-width="12" stroke-linecap="round"/>
<text class="lg" x="1693" y="2180.5">46</text>
<line x1="1942" y1="1821" x2="2044" y2="1821" stroke="#999" stroke-width="3.2" stroke-linecap="butt"/>
<text class="lg" x="2063" y="1832">54</text>
<line x1="1944" y1="1874" x2="2046" y2="1874" stroke="#aaa" stroke-width="3.2" stroke-linecap="butt"/>
<text class="lg" x="2063" y="1885.5">70</text>
<line x1="1943" y1="1934" x2="2045" y2="1934" stroke="#555" stroke-width="3.2" stroke-linecap="butt"/>
<text class="lg" x="2063" y="1944.5">74</text>
<line x1="1944" y1="1992" x2="2042" y2="1992" stroke="#2b98bd" stroke-width="12" stroke-linecap="round"/>
<text class="lg" x="2063" y="2002">83</text>
<line x1="1943" y1="2053" x2="2045" y2="2053" stroke="#666" stroke-width="3.2" stroke-linecap="butt"/>
<text class="lg" x="2063" y="2063.5">87</text>
<line x1="1945" y1="2111" x2="2046" y2="2111" stroke="#aaa" stroke-width="3.2" stroke-linecap="butt"/>
<text class="lg" x="2063" y="2123">134</text>
<line x1="1946" y1="2163" x2="2046" y2="2163" stroke="#555" stroke-width="2" stroke-linecap="butt"/>
<text class="lg" x="2063" y="2172" textLength="328" lengthAdjust="spacingAndGlyphs">Other Metro Transit Routes</text>
<polyline points="1880.0,2242.0 1880.0,2292.0" fill="none" stroke="#a3a3a3" stroke-width="1.6" stroke-linejoin="round" />
<polyline points="1918.0,2242.0 1908.0,2292.0" fill="none" stroke="#a0a0a0" stroke-width="5" stroke-linejoin="round" />
<polyline points="1930.0,2242.0 1922.0,2292.0" fill="none" stroke="#a0a0a0" stroke-width="4" stroke-linejoin="round" />
<polyline points="1940.0,2242.0 1934.0,2292.0" fill="none" stroke="#a0a0a0" stroke-width="2" stroke-linejoin="round" />
<polyline points="2294.0,2242.0 2266.0,2292.0" fill="none" stroke="#444" stroke-width="6" stroke-linejoin="round" />
<path d="M1545.0,2244.0C1547.5,2248.3 1554.2,2262.0 1560.0,2270.0C1565.8,2278.0 1576.7,2288.3 1580.0,2292.0" fill="none" stroke="#a3a3a3" stroke-width="1.6" stroke-linejoin="round" />
</svg>
</body></html>
